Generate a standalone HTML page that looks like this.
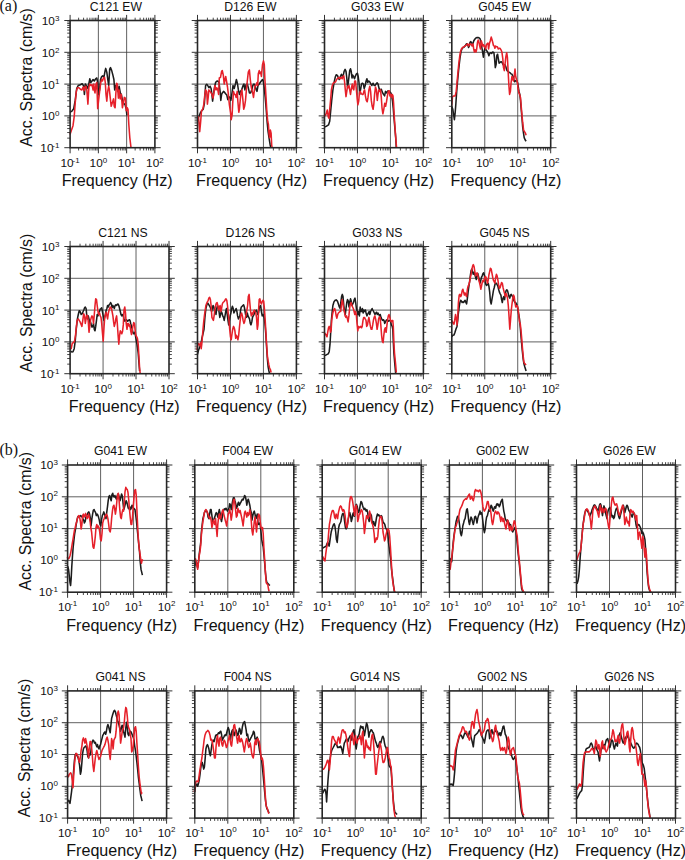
<!DOCTYPE html>
<html><head><meta charset="utf-8"><style>
html,body{margin:0;padding:0;background:#fff;}
svg{display:block;}
text{font-family:"Liberation Sans", sans-serif;fill:#111;}
</style></head><body>
<svg width="685" height="860" viewBox="0 0 685 860">
<path d="M98.37 20.50V147.70M126.63 20.50V147.70M70.10 52.30H154.90M70.10 84.10H154.90M70.10 115.90H154.90" stroke="#383838" stroke-width="0.8" fill="none"/>
<path d="M70.10 20.50v-5.6M70.10 147.70v5.6M98.37 20.50v-5.6M98.37 147.70v5.6M126.63 20.50v-5.6M126.63 147.70v5.6M154.90 20.50v-5.6M154.90 147.70v5.6M70.10 147.70h-5.8M154.90 147.70h5.8M70.10 115.90h-5.8M154.90 115.90h5.8M70.10 84.10h-5.8M154.90 84.10h5.8M70.10 52.30h-5.8M154.90 52.30h5.8M70.10 20.50h-5.8M154.90 20.50h5.8" stroke="#333" stroke-width="1.0" fill="none"/>
<path d="M78.61 20.50v-2.8M78.61 147.70v2.8M83.59 20.50v-2.8M83.59 147.70v2.8M87.12 20.50v-2.8M87.12 147.70v2.8M89.86 20.50v-2.8M89.86 147.70v2.8M92.10 20.50v-2.8M92.10 147.70v2.8M93.99 20.50v-2.8M93.99 147.70v2.8M95.63 20.50v-2.8M95.63 147.70v2.8M97.07 20.50v-2.8M97.07 147.70v2.8M106.88 20.50v-2.8M106.88 147.70v2.8M111.85 20.50v-2.8M111.85 147.70v2.8M115.38 20.50v-2.8M115.38 147.70v2.8M118.12 20.50v-2.8M118.12 147.70v2.8M120.36 20.50v-2.8M120.36 147.70v2.8M122.25 20.50v-2.8M122.25 147.70v2.8M123.89 20.50v-2.8M123.89 147.70v2.8M125.34 20.50v-2.8M125.34 147.70v2.8M135.14 20.50v-2.8M135.14 147.70v2.8M140.12 20.50v-2.8M140.12 147.70v2.8M143.65 20.50v-2.8M143.65 147.70v2.8M146.39 20.50v-2.8M146.39 147.70v2.8M148.63 20.50v-2.8M148.63 147.70v2.8M150.52 20.50v-2.8M150.52 147.70v2.8M152.16 20.50v-2.8M152.16 147.70v2.8M153.61 20.50v-2.8M153.61 147.70v2.8M70.10 138.13h-2.9M154.90 138.13h2.9M70.10 132.53h-2.9M154.90 132.53h2.9M70.10 128.55h-2.9M154.90 128.55h2.9M70.10 125.47h-2.9M154.90 125.47h2.9M70.10 122.95h-2.9M154.90 122.95h2.9M70.10 120.83h-2.9M154.90 120.83h2.9M70.10 118.98h-2.9M154.90 118.98h2.9M70.10 117.36h-2.9M154.90 117.36h2.9M70.10 106.33h-2.9M154.90 106.33h2.9M70.10 100.73h-2.9M154.90 100.73h2.9M70.10 96.75h-2.9M154.90 96.75h2.9M70.10 93.67h-2.9M154.90 93.67h2.9M70.10 91.15h-2.9M154.90 91.15h2.9M70.10 89.03h-2.9M154.90 89.03h2.9M70.10 87.18h-2.9M154.90 87.18h2.9M70.10 85.56h-2.9M154.90 85.56h2.9M70.10 74.53h-2.9M154.90 74.53h2.9M70.10 68.93h-2.9M154.90 68.93h2.9M70.10 64.95h-2.9M154.90 64.95h2.9M70.10 61.87h-2.9M154.90 61.87h2.9M70.10 59.35h-2.9M154.90 59.35h2.9M70.10 57.23h-2.9M154.90 57.23h2.9M70.10 55.38h-2.9M154.90 55.38h2.9M70.10 53.76h-2.9M154.90 53.76h2.9M70.10 42.73h-2.9M154.90 42.73h2.9M70.10 37.13h-2.9M154.90 37.13h2.9M70.10 33.15h-2.9M154.90 33.15h2.9M70.10 30.07h-2.9M154.90 30.07h2.9M70.10 27.55h-2.9M154.90 27.55h2.9M70.10 25.43h-2.9M154.90 25.43h2.9M70.10 23.58h-2.9M154.90 23.58h2.9M70.10 21.96h-2.9M154.90 21.96h2.9" stroke="#333" stroke-width="0.9" fill="none"/>
<path d="M70.0 112.3L72.2 110.8L73.7 108.6L75.2 100.4L76.7 88.5L78.2 85.5L80.4 84.7L82.2 83.7L83.7 86.2L84.4 94.4L85.3 84.0L86.7 86.2L87.9 88.5L89.1 82.5L89.8 78.8L90.8 82.5L92.0 81.0L93.1 79.5L94.3 81.0L95.6 78.8L96.8 78.0L97.7 82.5L98.6 94.4L99.5 90.0L100.5 79.5L101.7 76.6L102.7 75.8L103.9 77.3L105.0 71.3L105.7 68.4L106.8 72.1L108.0 81.0L108.7 85.5L109.7 69.1L110.5 67.6L111.7 70.6L112.9 75.1L113.9 79.5L114.7 90.0L115.7 85.5L116.9 85.5L117.9 91.4L119.1 86.2L120.3 92.9L121.3 94.4L122.5 100.4L123.6 103.3L125.1 104.8L126.3 109.3L126.9 115.3" stroke="#1c1c1c" stroke-width="1.55" fill="none" stroke-linejoin="round"/>
<path d="M70.0 134.6L71.5 130.1L73.0 125.7L74.2 116.7L75.2 103.3L76.3 91.4L77.4 87.7L78.9 87.7L80.4 89.2L81.9 90.0L83.1 87.0L84.1 90.7L84.9 87.0L85.9 86.2L86.8 90.0L87.9 104.1L88.9 87.0L89.8 84.0L90.8 85.5L92.0 84.7L93.1 90.0L93.8 84.0L94.6 91.4L95.0 92.9L96.0 84.0L96.8 82.5L97.7 108.6L98.6 100.4L99.8 90.0L100.8 82.5L101.6 79.5L102.4 81.0L103.5 78.0L104.5 77.3L105.3 82.5L106.0 94.4L106.8 101.1L107.7 91.4L108.7 86.2L109.4 90.0L110.2 97.4L111.2 106.3L112.4 102.6L113.5 98.9L114.2 106.3L115.1 107.8L115.8 94.4L116.6 83.3L117.3 84.0L118.4 98.1L119.1 90.0L120.2 98.9L121.3 94.4L122.4 107.8L123.3 103.3L124.3 97.4L125.4 98.1L126.3 110.8L127.3 107.8L128.0 109.3L128.8 124.2L129.8 137.6L131.0 147.7" stroke="#e6202a" stroke-width="1.55" fill="none" stroke-linejoin="round"/>
<rect x="70.10" y="20.50" width="84.80" height="127.20" stroke="#262626" stroke-width="1.6" fill="none"/>
<text x="115.90" y="10.50" font-size="12.2" text-anchor="middle">C121 EW</text>
<text x="70.10" y="166.90" font-size="11.8" text-anchor="middle">10<tspan dx="-1.2" dy="-4.2" font-size="8">-1</tspan></text>
<text x="98.37" y="166.90" font-size="11.8" text-anchor="middle">10<tspan dx="0" dy="-4.2" font-size="8">0</tspan></text>
<text x="126.63" y="166.90" font-size="11.8" text-anchor="middle">10<tspan dx="0" dy="-4.2" font-size="8">1</tspan></text>
<text x="154.90" y="166.90" font-size="11.8" text-anchor="middle">10<tspan dx="0" dy="-4.2" font-size="8">2</tspan></text>
<text x="59.40" y="25.00" font-size="11.8" text-anchor="end">10<tspan dx="0" dy="-4.2" font-size="8">3</tspan></text>
<text x="59.40" y="56.80" font-size="11.8" text-anchor="end">10<tspan dx="0" dy="-4.2" font-size="8">2</tspan></text>
<text x="59.40" y="88.60" font-size="11.8" text-anchor="end">10<tspan dx="0" dy="-4.2" font-size="8">1</tspan></text>
<text x="59.40" y="120.40" font-size="11.8" text-anchor="end">10<tspan dx="0" dy="-4.2" font-size="8">0</tspan></text>
<text x="59.40" y="152.20" font-size="11.8" text-anchor="end">10<tspan dx="-1.2" dy="-4.2" font-size="8">-1</tspan></text>
<text x="117.10" y="186.00" font-size="16.1" text-anchor="middle">Frequency (Hz)</text>
<path d="M230.47 20.50V147.70M263.43 20.50V147.70M197.50 52.30H296.40M197.50 84.10H296.40M197.50 115.90H296.40" stroke="#383838" stroke-width="0.8" fill="none"/>
<path d="M197.50 20.50v-5.6M197.50 147.70v5.6M230.47 20.50v-5.6M230.47 147.70v5.6M263.43 20.50v-5.6M263.43 147.70v5.6M296.40 20.50v-5.6M296.40 147.70v5.6M197.50 147.70h-5.8M296.40 147.70h5.8M197.50 115.90h-5.8M296.40 115.90h5.8M197.50 84.10h-5.8M296.40 84.10h5.8M197.50 52.30h-5.8M296.40 52.30h5.8M197.50 20.50h-5.8M296.40 20.50h5.8" stroke="#333" stroke-width="1.0" fill="none"/>
<path d="M207.42 20.50v-2.8M207.42 147.70v2.8M213.23 20.50v-2.8M213.23 147.70v2.8M217.35 20.50v-2.8M217.35 147.70v2.8M220.54 20.50v-2.8M220.54 147.70v2.8M223.15 20.50v-2.8M223.15 147.70v2.8M225.36 20.50v-2.8M225.36 147.70v2.8M227.27 20.50v-2.8M227.27 147.70v2.8M228.96 20.50v-2.8M228.96 147.70v2.8M240.39 20.50v-2.8M240.39 147.70v2.8M246.20 20.50v-2.8M246.20 147.70v2.8M250.31 20.50v-2.8M250.31 147.70v2.8M253.51 20.50v-2.8M253.51 147.70v2.8M256.12 20.50v-2.8M256.12 147.70v2.8M258.33 20.50v-2.8M258.33 147.70v2.8M260.24 20.50v-2.8M260.24 147.70v2.8M261.92 20.50v-2.8M261.92 147.70v2.8M273.36 20.50v-2.8M273.36 147.70v2.8M279.16 20.50v-2.8M279.16 147.70v2.8M283.28 20.50v-2.8M283.28 147.70v2.8M286.48 20.50v-2.8M286.48 147.70v2.8M289.09 20.50v-2.8M289.09 147.70v2.8M291.29 20.50v-2.8M291.29 147.70v2.8M293.21 20.50v-2.8M293.21 147.70v2.8M294.89 20.50v-2.8M294.89 147.70v2.8M197.50 138.13h-2.9M296.40 138.13h2.9M197.50 132.53h-2.9M296.40 132.53h2.9M197.50 128.55h-2.9M296.40 128.55h2.9M197.50 125.47h-2.9M296.40 125.47h2.9M197.50 122.95h-2.9M296.40 122.95h2.9M197.50 120.83h-2.9M296.40 120.83h2.9M197.50 118.98h-2.9M296.40 118.98h2.9M197.50 117.36h-2.9M296.40 117.36h2.9M197.50 106.33h-2.9M296.40 106.33h2.9M197.50 100.73h-2.9M296.40 100.73h2.9M197.50 96.75h-2.9M296.40 96.75h2.9M197.50 93.67h-2.9M296.40 93.67h2.9M197.50 91.15h-2.9M296.40 91.15h2.9M197.50 89.03h-2.9M296.40 89.03h2.9M197.50 87.18h-2.9M296.40 87.18h2.9M197.50 85.56h-2.9M296.40 85.56h2.9M197.50 74.53h-2.9M296.40 74.53h2.9M197.50 68.93h-2.9M296.40 68.93h2.9M197.50 64.95h-2.9M296.40 64.95h2.9M197.50 61.87h-2.9M296.40 61.87h2.9M197.50 59.35h-2.9M296.40 59.35h2.9M197.50 57.23h-2.9M296.40 57.23h2.9M197.50 55.38h-2.9M296.40 55.38h2.9M197.50 53.76h-2.9M296.40 53.76h2.9M197.50 42.73h-2.9M296.40 42.73h2.9M197.50 37.13h-2.9M296.40 37.13h2.9M197.50 33.15h-2.9M296.40 33.15h2.9M197.50 30.07h-2.9M296.40 30.07h2.9M197.50 27.55h-2.9M296.40 27.55h2.9M197.50 25.43h-2.9M296.40 25.43h2.9M197.50 23.58h-2.9M296.40 23.58h2.9M197.50 21.96h-2.9M296.40 21.96h2.9" stroke="#333" stroke-width="0.9" fill="none"/>
<path d="M197.4 118.2L198.8 116.7L200.3 113.0L201.8 110.8L203.2 109.3L204.4 103.3L205.6 85.5L206.7 84.3L207.7 85.5L208.9 87.7L210.1 86.2L211.1 88.5L211.9 94.4L212.6 101.1L213.7 92.9L214.6 87.0L215.6 82.5L216.6 81.3L217.8 81.0L219.0 82.5L220.1 91.4L220.8 100.4L221.6 94.4L222.3 92.9L223.5 91.4L224.5 92.2L225.6 93.7L226.8 95.1L227.8 99.6L228.7 96.6L229.7 97.4L230.9 100.4L232.0 92.9L233.0 85.5L234.2 88.5L235.4 84.0L236.4 79.5L237.5 84.0L238.4 89.9L239.4 94.4L240.5 91.4L241.6 89.9L242.8 86.2L243.9 84.0L244.9 89.9L246.1 84.7L247.3 84.0L248.3 87.7L249.4 92.9L250.6 92.9L251.8 89.9L252.8 85.5L254.0 84.0L255.0 85.5L256.2 89.9L257.0 91.4L258.0 85.5L259.2 84.0L260.2 82.5L261.3 81.0L262.5 79.5L263.2 81.0L264.0 85.5L265.2 97.4L266.2 109.3L267.2 122.7L268.1 131.6L269.2 139.0L270.2 145.0L270.8 147.7" stroke="#1c1c1c" stroke-width="1.55" fill="none" stroke-linejoin="round"/>
<path d="M197.0 116.7L198.5 116.7L199.7 131.6L200.7 121.2L201.5 110.8L202.7 109.3L203.7 104.8L204.7 95.9L205.6 89.9L206.7 91.4L207.4 104.1L208.2 97.4L208.9 89.9L210.1 91.4L211.1 92.9L211.9 94.4L213.1 98.1L214.1 91.4L214.9 85.5L216.0 89.9L216.8 87.7L217.8 89.9L218.6 94.4L219.3 78.0L220.5 77.3L221.6 71.3L222.3 70.6L223.3 75.1L224.2 84.0L225.0 79.5L225.7 76.5L226.5 81.0L227.5 87.0L228.2 92.9L229.4 104.8L230.5 112.3L231.2 119.7L232.1 115.2L232.7 103.3L233.5 91.4L234.5 94.4L235.4 94.4L236.1 97.4L237.2 91.4L237.9 101.8L238.8 112.3L239.4 109.3L240.2 100.4L241.0 92.9L241.9 89.9L242.8 98.9L243.7 109.3L244.6 106.3L245.5 100.4L246.4 89.9L247.3 81.0L248.3 72.1L249.4 69.9L250.3 79.5L251.0 85.5L251.8 89.9L252.7 92.9L253.5 97.4L254.4 89.9L255.2 85.5L255.9 85.5L257.0 82.5L257.7 85.5L258.3 73.6L259.2 70.6L259.9 73.6L260.7 72.1L261.4 76.5L262.5 64.6L263.5 60.9L264.3 64.6L264.9 79.5L265.5 88.5L266.2 100.4L266.9 112.3L267.7 121.2L268.4 124.2L269.0 133.1L269.6 137.6L270.4 130.1L271.1 133.1L271.7 145.0L272.1 147.7" stroke="#e6202a" stroke-width="1.55" fill="none" stroke-linejoin="round"/>
<rect x="197.50" y="20.50" width="98.90" height="127.20" stroke="#262626" stroke-width="1.6" fill="none"/>
<text x="250.35" y="10.50" font-size="12.2" text-anchor="middle">D126 EW</text>
<text x="197.50" y="166.90" font-size="11.8" text-anchor="middle">10<tspan dx="-1.2" dy="-4.2" font-size="8">-1</tspan></text>
<text x="230.47" y="166.90" font-size="11.8" text-anchor="middle">10<tspan dx="0" dy="-4.2" font-size="8">0</tspan></text>
<text x="263.43" y="166.90" font-size="11.8" text-anchor="middle">10<tspan dx="0" dy="-4.2" font-size="8">1</tspan></text>
<text x="296.40" y="166.90" font-size="11.8" text-anchor="middle">10<tspan dx="0" dy="-4.2" font-size="8">2</tspan></text>
<text x="251.55" y="186.00" font-size="16.1" text-anchor="middle">Frequency (Hz)</text>
<path d="M357.47 20.50V147.70M390.43 20.50V147.70M324.50 52.30H423.40M324.50 84.10H423.40M324.50 115.90H423.40" stroke="#383838" stroke-width="0.8" fill="none"/>
<path d="M324.50 20.50v-5.6M324.50 147.70v5.6M357.47 20.50v-5.6M357.47 147.70v5.6M390.43 20.50v-5.6M390.43 147.70v5.6M423.40 20.50v-5.6M423.40 147.70v5.6M324.50 147.70h-5.8M423.40 147.70h5.8M324.50 115.90h-5.8M423.40 115.90h5.8M324.50 84.10h-5.8M423.40 84.10h5.8M324.50 52.30h-5.8M423.40 52.30h5.8M324.50 20.50h-5.8M423.40 20.50h5.8" stroke="#333" stroke-width="1.0" fill="none"/>
<path d="M334.42 20.50v-2.8M334.42 147.70v2.8M340.23 20.50v-2.8M340.23 147.70v2.8M344.35 20.50v-2.8M344.35 147.70v2.8M347.54 20.50v-2.8M347.54 147.70v2.8M350.15 20.50v-2.8M350.15 147.70v2.8M352.36 20.50v-2.8M352.36 147.70v2.8M354.27 20.50v-2.8M354.27 147.70v2.8M355.96 20.50v-2.8M355.96 147.70v2.8M367.39 20.50v-2.8M367.39 147.70v2.8M373.20 20.50v-2.8M373.20 147.70v2.8M377.31 20.50v-2.8M377.31 147.70v2.8M380.51 20.50v-2.8M380.51 147.70v2.8M383.12 20.50v-2.8M383.12 147.70v2.8M385.33 20.50v-2.8M385.33 147.70v2.8M387.24 20.50v-2.8M387.24 147.70v2.8M388.92 20.50v-2.8M388.92 147.70v2.8M400.36 20.50v-2.8M400.36 147.70v2.8M406.16 20.50v-2.8M406.16 147.70v2.8M410.28 20.50v-2.8M410.28 147.70v2.8M413.48 20.50v-2.8M413.48 147.70v2.8M416.09 20.50v-2.8M416.09 147.70v2.8M418.29 20.50v-2.8M418.29 147.70v2.8M420.21 20.50v-2.8M420.21 147.70v2.8M421.89 20.50v-2.8M421.89 147.70v2.8M324.50 138.13h-2.9M423.40 138.13h2.9M324.50 132.53h-2.9M423.40 132.53h2.9M324.50 128.55h-2.9M423.40 128.55h2.9M324.50 125.47h-2.9M423.40 125.47h2.9M324.50 122.95h-2.9M423.40 122.95h2.9M324.50 120.83h-2.9M423.40 120.83h2.9M324.50 118.98h-2.9M423.40 118.98h2.9M324.50 117.36h-2.9M423.40 117.36h2.9M324.50 106.33h-2.9M423.40 106.33h2.9M324.50 100.73h-2.9M423.40 100.73h2.9M324.50 96.75h-2.9M423.40 96.75h2.9M324.50 93.67h-2.9M423.40 93.67h2.9M324.50 91.15h-2.9M423.40 91.15h2.9M324.50 89.03h-2.9M423.40 89.03h2.9M324.50 87.18h-2.9M423.40 87.18h2.9M324.50 85.56h-2.9M423.40 85.56h2.9M324.50 74.53h-2.9M423.40 74.53h2.9M324.50 68.93h-2.9M423.40 68.93h2.9M324.50 64.95h-2.9M423.40 64.95h2.9M324.50 61.87h-2.9M423.40 61.87h2.9M324.50 59.35h-2.9M423.40 59.35h2.9M324.50 57.23h-2.9M423.40 57.23h2.9M324.50 55.38h-2.9M423.40 55.38h2.9M324.50 53.76h-2.9M423.40 53.76h2.9M324.50 42.73h-2.9M423.40 42.73h2.9M324.50 37.13h-2.9M423.40 37.13h2.9M324.50 33.15h-2.9M423.40 33.15h2.9M324.50 30.07h-2.9M423.40 30.07h2.9M324.50 27.55h-2.9M423.40 27.55h2.9M324.50 25.43h-2.9M423.40 25.43h2.9M324.50 23.58h-2.9M423.40 23.58h2.9M324.50 21.96h-2.9M423.40 21.96h2.9" stroke="#333" stroke-width="0.9" fill="none"/>
<path d="M324.4 127.1L326.2 126.4L328.5 124.9L329.7 121.2L330.7 110.8L331.7 100.4L332.9 89.9L334.1 82.5L335.2 77.3L336.2 74.8L337.4 75.4L338.4 78.0L339.3 79.5L340.4 76.5L341.4 74.3L342.3 76.2L343.3 75.1L344.1 71.3L345.1 69.4L346.0 71.3L346.8 78.0L347.5 87.0L348.3 82.5L349.0 76.5L349.7 70.6L350.5 68.8L351.2 71.3L352.0 78.0L352.7 75.1L353.5 76.5L354.5 78.8L355.5 75.8L356.4 73.9L357.5 73.3L358.2 76.5L359.0 82.5L359.7 94.4L360.5 89.9L361.5 84.0L362.4 83.2L363.4 84.0L364.2 88.5L365.2 85.5L366.1 81.0L366.9 78.8L367.8 82.5L368.6 81.0L369.7 81.8L370.9 84.0L371.9 85.5L373.1 83.2L374.1 85.5L375.0 85.5L376.1 84.0L377.1 82.8L378.0 84.0L379.1 88.5L380.1 89.9L381.3 89.2L382.3 92.2L383.5 94.4L384.6 95.9L385.5 91.4L386.5 92.9L387.5 91.4L388.4 90.7L389.5 92.2L390.5 92.2L391.4 94.4L392.5 101.1L393.2 107.8L393.9 116.7L394.8 127.1L395.7 137.6L396.3 147.7" stroke="#1c1c1c" stroke-width="1.55" fill="none" stroke-linejoin="round"/>
<path d="M324.0 116.7L325.2 115.2L326.2 113.8L327.3 110.0L328.2 116.7L328.9 118.2L329.7 109.3L330.7 98.9L331.4 89.9L332.3 85.5L333.2 83.2L334.4 82.5L335.6 81.8L336.6 79.5L337.7 78.3L338.9 77.3L340.1 78.8L341.1 77.3L342.2 78.8L343.0 76.5L343.8 75.8L344.5 81.0L345.3 89.9L346.0 96.6L346.8 91.4L347.5 86.2L348.3 87.7L349.0 85.5L349.7 89.9L350.5 94.4L351.4 88.5L352.3 84.0L353.0 88.5L353.8 89.9L354.7 81.0L355.5 81.0L356.4 89.9L357.2 98.9L357.9 104.8L358.7 101.1L359.4 92.9L360.2 91.4L361.2 93.7L362.2 94.4L363.1 94.4L363.9 91.4L364.6 89.9L365.4 95.9L366.3 100.4L367.2 101.8L368.0 97.4L368.9 89.9L369.8 86.2L370.6 91.4L371.3 100.4L372.2 106.3L373.1 109.3L373.9 103.3L374.6 94.4L375.5 87.0L376.4 89.9L377.3 100.4L378.0 94.4L378.8 89.9L379.7 91.4L380.5 89.9L381.3 97.4L382.0 107.8L382.9 113.8L383.8 109.3L384.7 103.3L385.6 106.3L386.5 101.8L387.4 95.9L388.3 91.4L389.2 90.7L389.9 95.9L390.7 94.4L391.4 97.4L392.2 94.4L393.0 95.9L393.6 103.3L394.2 115.2L394.8 124.2L395.4 133.1L396.2 143.5L396.6 147.7" stroke="#e6202a" stroke-width="1.55" fill="none" stroke-linejoin="round"/>
<rect x="324.50" y="20.50" width="98.90" height="127.20" stroke="#262626" stroke-width="1.6" fill="none"/>
<text x="377.35" y="10.50" font-size="12.2" text-anchor="middle">G033 EW</text>
<text x="324.50" y="166.90" font-size="11.8" text-anchor="middle">10<tspan dx="-1.2" dy="-4.2" font-size="8">-1</tspan></text>
<text x="357.47" y="166.90" font-size="11.8" text-anchor="middle">10<tspan dx="0" dy="-4.2" font-size="8">0</tspan></text>
<text x="390.43" y="166.90" font-size="11.8" text-anchor="middle">10<tspan dx="0" dy="-4.2" font-size="8">1</tspan></text>
<text x="423.40" y="166.90" font-size="11.8" text-anchor="middle">10<tspan dx="0" dy="-4.2" font-size="8">2</tspan></text>
<text x="378.55" y="186.00" font-size="16.1" text-anchor="middle">Frequency (Hz)</text>
<path d="M484.77 20.50V147.70M517.73 20.50V147.70M451.80 52.30H550.70M451.80 84.10H550.70M451.80 115.90H550.70" stroke="#383838" stroke-width="0.8" fill="none"/>
<path d="M451.80 20.50v-5.6M451.80 147.70v5.6M484.77 20.50v-5.6M484.77 147.70v5.6M517.73 20.50v-5.6M517.73 147.70v5.6M550.70 20.50v-5.6M550.70 147.70v5.6M451.80 147.70h-5.8M550.70 147.70h5.8M451.80 115.90h-5.8M550.70 115.90h5.8M451.80 84.10h-5.8M550.70 84.10h5.8M451.80 52.30h-5.8M550.70 52.30h5.8M451.80 20.50h-5.8M550.70 20.50h5.8" stroke="#333" stroke-width="1.0" fill="none"/>
<path d="M461.72 20.50v-2.8M461.72 147.70v2.8M467.53 20.50v-2.8M467.53 147.70v2.8M471.65 20.50v-2.8M471.65 147.70v2.8M474.84 20.50v-2.8M474.84 147.70v2.8M477.45 20.50v-2.8M477.45 147.70v2.8M479.66 20.50v-2.8M479.66 147.70v2.8M481.57 20.50v-2.8M481.57 147.70v2.8M483.26 20.50v-2.8M483.26 147.70v2.8M494.69 20.50v-2.8M494.69 147.70v2.8M500.50 20.50v-2.8M500.50 147.70v2.8M504.61 20.50v-2.8M504.61 147.70v2.8M507.81 20.50v-2.8M507.81 147.70v2.8M510.42 20.50v-2.8M510.42 147.70v2.8M512.63 20.50v-2.8M512.63 147.70v2.8M514.54 20.50v-2.8M514.54 147.70v2.8M516.22 20.50v-2.8M516.22 147.70v2.8M527.66 20.50v-2.8M527.66 147.70v2.8M533.46 20.50v-2.8M533.46 147.70v2.8M537.58 20.50v-2.8M537.58 147.70v2.8M540.78 20.50v-2.8M540.78 147.70v2.8M543.39 20.50v-2.8M543.39 147.70v2.8M545.59 20.50v-2.8M545.59 147.70v2.8M547.51 20.50v-2.8M547.51 147.70v2.8M549.19 20.50v-2.8M549.19 147.70v2.8M451.80 138.13h-2.9M550.70 138.13h2.9M451.80 132.53h-2.9M550.70 132.53h2.9M451.80 128.55h-2.9M550.70 128.55h2.9M451.80 125.47h-2.9M550.70 125.47h2.9M451.80 122.95h-2.9M550.70 122.95h2.9M451.80 120.83h-2.9M550.70 120.83h2.9M451.80 118.98h-2.9M550.70 118.98h2.9M451.80 117.36h-2.9M550.70 117.36h2.9M451.80 106.33h-2.9M550.70 106.33h2.9M451.80 100.73h-2.9M550.70 100.73h2.9M451.80 96.75h-2.9M550.70 96.75h2.9M451.80 93.67h-2.9M550.70 93.67h2.9M451.80 91.15h-2.9M550.70 91.15h2.9M451.80 89.03h-2.9M550.70 89.03h2.9M451.80 87.18h-2.9M550.70 87.18h2.9M451.80 85.56h-2.9M550.70 85.56h2.9M451.80 74.53h-2.9M550.70 74.53h2.9M451.80 68.93h-2.9M550.70 68.93h2.9M451.80 64.95h-2.9M550.70 64.95h2.9M451.80 61.87h-2.9M550.70 61.87h2.9M451.80 59.35h-2.9M550.70 59.35h2.9M451.80 57.23h-2.9M550.70 57.23h2.9M451.80 55.38h-2.9M550.70 55.38h2.9M451.80 53.76h-2.9M550.70 53.76h2.9M451.80 42.73h-2.9M550.70 42.73h2.9M451.80 37.13h-2.9M550.70 37.13h2.9M451.80 33.15h-2.9M550.70 33.15h2.9M451.80 30.07h-2.9M550.70 30.07h2.9M451.80 27.55h-2.9M550.70 27.55h2.9M451.80 25.43h-2.9M550.70 25.43h2.9M451.80 23.58h-2.9M550.70 23.58h2.9M451.80 21.96h-2.9M550.70 21.96h2.9" stroke="#333" stroke-width="0.9" fill="none"/>
<path d="M451.7 106.3L452.8 109.3L453.7 115.2L454.4 119.7L455.2 112.3L455.9 103.3L456.7 91.4L457.7 79.5L458.7 69.1L459.9 58.7L461.1 51.2L462.2 48.3L463.2 47.5L464.4 46.8L465.6 45.3L466.6 43.8L467.7 44.6L468.6 47.5L469.3 46.0L470.0 42.3L470.8 41.6L471.8 43.1L472.9 43.8L473.8 40.8L474.8 39.3L475.9 37.9L477.0 37.6L478.2 37.6L479.3 37.9L480.3 39.3L481.2 43.8L482.0 48.3L482.7 52.7L483.4 57.2L484.2 51.2L484.9 48.3L486.0 49.8L487.0 51.2L487.9 52.7L488.9 55.7L489.7 53.5L490.7 52.7L491.6 53.5L492.7 52.0L493.9 52.7L494.6 58.7L495.3 67.6L496.1 64.6L496.8 55.7L497.6 54.2L498.3 58.7L499.1 63.2L500.1 62.4L501.1 61.7L502.0 62.4L503.1 64.6L504.1 66.1L505.0 64.6L506.1 67.6L507.0 70.6L508.0 71.3L509.0 72.1L510.1 72.8L511.1 73.9L512.0 74.3L513.1 76.5L513.9 79.5L514.7 81.8L515.4 81.0L516.5 80.3L517.5 82.5L518.3 87.0L519.0 91.4L519.8 94.4L520.5 100.4L521.2 109.3L522.0 118.2L522.7 127.1L523.5 133.1L524.2 137.6L525.1 139.8L526.1 141.3" stroke="#1c1c1c" stroke-width="1.55" fill="none" stroke-linejoin="round"/>
<path d="M451.7 105.6L452.5 96.6L453.7 95.9L455.2 95.9L456.2 91.4L457.0 82.5L457.7 75.1L458.7 64.6L459.6 57.2L460.4 52.0L461.4 49.0L462.6 47.5L463.8 46.8L464.8 46.0L465.9 45.3L466.8 44.6L467.7 43.8L468.6 46.0L469.5 44.6L470.3 43.8L471.2 44.6L472.1 46.0L473.0 43.8L473.6 48.3L474.4 52.0L475.1 49.8L476.0 52.0L476.7 49.0L477.5 42.3L478.2 40.1L479.0 42.3L479.7 46.0L480.5 49.0L481.2 40.8L482.0 43.1L482.7 46.0L483.4 44.6L484.2 46.8L484.9 46.0L485.7 49.0L486.4 44.6L487.2 43.8L487.9 43.1L488.6 49.0L489.4 43.8L490.3 40.8L491.2 37.1L491.9 39.3L492.7 42.3L493.4 45.3L494.2 46.0L494.9 48.3L495.6 46.0L496.5 46.8L497.4 46.8L498.3 49.0L499.2 48.3L500.1 48.3L501.0 49.8L501.9 52.0L502.8 58.7L503.5 67.6L504.3 70.6L505.0 64.6L505.8 57.2L506.7 52.7L507.4 57.2L508.1 70.6L508.9 85.5L509.6 94.4L510.4 91.4L511.1 82.5L511.9 76.5L512.8 79.5L513.5 81.0L514.2 76.5L515.0 69.1L515.7 76.5L516.5 79.5L517.4 82.5L518.1 88.5L518.9 92.9L519.6 94.4L520.5 97.4L521.2 106.3L522.0 115.2L522.7 122.7L523.6 130.1L524.5 131.6L525.4 133.1L526.1 135.3" stroke="#e6202a" stroke-width="1.55" fill="none" stroke-linejoin="round"/>
<rect x="451.80" y="20.50" width="98.90" height="127.20" stroke="#262626" stroke-width="1.6" fill="none"/>
<text x="504.65" y="10.50" font-size="12.2" text-anchor="middle">G045 EW</text>
<text x="451.80" y="166.90" font-size="11.8" text-anchor="middle">10<tspan dx="-1.2" dy="-4.2" font-size="8">-1</tspan></text>
<text x="484.77" y="166.90" font-size="11.8" text-anchor="middle">10<tspan dx="0" dy="-4.2" font-size="8">0</tspan></text>
<text x="517.73" y="166.90" font-size="11.8" text-anchor="middle">10<tspan dx="0" dy="-4.2" font-size="8">1</tspan></text>
<text x="550.70" y="166.90" font-size="11.8" text-anchor="middle">10<tspan dx="0" dy="-4.2" font-size="8">2</tspan></text>
<text x="505.85" y="186.00" font-size="16.1" text-anchor="middle">Frequency (Hz)</text>
<path d="M103.07 246.50V373.70M136.03 246.50V373.70M70.10 278.30H169.00M70.10 310.10H169.00M70.10 341.90H169.00" stroke="#383838" stroke-width="0.8" fill="none"/>
<path d="M70.10 246.50v-5.6M70.10 373.70v5.6M103.07 246.50v-5.6M103.07 373.70v5.6M136.03 246.50v-5.6M136.03 373.70v5.6M169.00 246.50v-5.6M169.00 373.70v5.6M70.10 373.70h-5.8M169.00 373.70h5.8M70.10 341.90h-5.8M169.00 341.90h5.8M70.10 310.10h-5.8M169.00 310.10h5.8M70.10 278.30h-5.8M169.00 278.30h5.8M70.10 246.50h-5.8M169.00 246.50h5.8" stroke="#333" stroke-width="1.0" fill="none"/>
<path d="M80.02 246.50v-2.8M80.02 373.70v2.8M85.83 246.50v-2.8M85.83 373.70v2.8M89.95 246.50v-2.8M89.95 373.70v2.8M93.14 246.50v-2.8M93.14 373.70v2.8M95.75 246.50v-2.8M95.75 373.70v2.8M97.96 246.50v-2.8M97.96 373.70v2.8M99.87 246.50v-2.8M99.87 373.70v2.8M101.56 246.50v-2.8M101.56 373.70v2.8M112.99 246.50v-2.8M112.99 373.70v2.8M118.80 246.50v-2.8M118.80 373.70v2.8M122.91 246.50v-2.8M122.91 373.70v2.8M126.11 246.50v-2.8M126.11 373.70v2.8M128.72 246.50v-2.8M128.72 373.70v2.8M130.93 246.50v-2.8M130.93 373.70v2.8M132.84 246.50v-2.8M132.84 373.70v2.8M134.52 246.50v-2.8M134.52 373.70v2.8M145.96 246.50v-2.8M145.96 373.70v2.8M151.76 246.50v-2.8M151.76 373.70v2.8M155.88 246.50v-2.8M155.88 373.70v2.8M159.08 246.50v-2.8M159.08 373.70v2.8M161.69 246.50v-2.8M161.69 373.70v2.8M163.89 246.50v-2.8M163.89 373.70v2.8M165.81 246.50v-2.8M165.81 373.70v2.8M167.49 246.50v-2.8M167.49 373.70v2.8M70.10 364.13h-2.9M169.00 364.13h2.9M70.10 358.53h-2.9M169.00 358.53h2.9M70.10 354.55h-2.9M169.00 354.55h2.9M70.10 351.47h-2.9M169.00 351.47h2.9M70.10 348.95h-2.9M169.00 348.95h2.9M70.10 346.83h-2.9M169.00 346.83h2.9M70.10 344.98h-2.9M169.00 344.98h2.9M70.10 343.36h-2.9M169.00 343.36h2.9M70.10 332.33h-2.9M169.00 332.33h2.9M70.10 326.73h-2.9M169.00 326.73h2.9M70.10 322.75h-2.9M169.00 322.75h2.9M70.10 319.67h-2.9M169.00 319.67h2.9M70.10 317.15h-2.9M169.00 317.15h2.9M70.10 315.03h-2.9M169.00 315.03h2.9M70.10 313.18h-2.9M169.00 313.18h2.9M70.10 311.56h-2.9M169.00 311.56h2.9M70.10 300.53h-2.9M169.00 300.53h2.9M70.10 294.93h-2.9M169.00 294.93h2.9M70.10 290.95h-2.9M169.00 290.95h2.9M70.10 287.87h-2.9M169.00 287.87h2.9M70.10 285.35h-2.9M169.00 285.35h2.9M70.10 283.23h-2.9M169.00 283.23h2.9M70.10 281.38h-2.9M169.00 281.38h2.9M70.10 279.76h-2.9M169.00 279.76h2.9M70.10 268.73h-2.9M169.00 268.73h2.9M70.10 263.13h-2.9M169.00 263.13h2.9M70.10 259.15h-2.9M169.00 259.15h2.9M70.10 256.07h-2.9M169.00 256.07h2.9M70.10 253.55h-2.9M169.00 253.55h2.9M70.10 251.43h-2.9M169.00 251.43h2.9M70.10 249.58h-2.9M169.00 249.58h2.9M70.10 247.96h-2.9M169.00 247.96h2.9" stroke="#333" stroke-width="0.9" fill="none"/>
<path d="M70.4 350.9L71.8 352.0L73.0 351.7L74.2 348.7L75.2 341.2L76.2 329.3L77.4 318.9L78.3 314.5L79.2 310.7L80.1 311.5L81.2 314.5L82.2 313.7L83.1 311.5L83.8 310.0L84.6 307.8L85.3 307.0L86.1 308.5L86.8 315.9L87.6 318.9L88.3 315.9L89.0 318.9L89.8 323.4L90.5 321.9L91.3 324.9L92.0 327.1L92.8 326.4L93.5 323.4L94.3 329.3L95.0 330.8L95.7 326.4L96.5 320.4L97.2 314.5L98.0 315.9L98.7 313.0L99.5 311.5L100.2 309.2L101.0 308.5L101.7 307.8L102.4 311.5L103.2 315.9L103.9 320.4L104.7 317.4L105.4 314.5L106.2 310.0L106.9 308.5L107.6 305.5L108.4 307.0L109.1 304.8L109.9 304.0L110.6 302.5L111.4 304.0L112.1 307.8L112.9 305.5L113.6 307.0L114.3 308.5L115.1 305.5L115.8 304.8L116.6 305.5L117.3 304.3L118.1 304.0L118.8 305.5L119.6 308.5L120.3 311.5L121.0 314.5L121.8 315.9L122.5 314.5L123.3 315.9L124.0 318.9L124.8 321.1L125.5 320.4L126.2 319.7L127.0 320.4L127.7 321.1L128.5 320.4L129.2 319.7L130.0 320.4L130.7 323.4L131.5 326.4L132.2 329.3L132.9 332.3L133.7 333.8L134.4 332.3L135.2 333.8L135.9 338.3L136.7 342.7L137.4 347.2L138.2 353.1L138.9 362.1L139.6 371.0" stroke="#1c1c1c" stroke-width="1.55" fill="none" stroke-linejoin="round"/>
<path d="M70.0 349.4L71.2 348.7L72.2 343.5L73.3 342.7L74.5 341.2L75.5 335.3L76.4 326.4L77.1 320.4L78.2 318.9L79.2 320.4L80.1 321.9L81.0 324.1L81.9 326.4L82.8 320.4L83.7 313.7L84.6 315.9L85.3 323.4L86.1 318.9L86.8 315.2L87.6 315.9L88.3 321.9L89.0 332.3L89.8 326.4L90.5 320.4L91.3 317.4L92.0 315.9L92.8 317.4L93.5 323.4L94.3 314.5L95.0 305.5L95.7 298.8L96.5 299.6L97.2 305.5L98.0 311.5L98.7 314.5L99.5 313.0L100.2 315.9L101.0 317.4L101.7 323.4L102.4 332.3L103.2 341.2L103.9 329.3L104.7 317.4L105.4 314.5L106.2 312.2L106.9 315.9L107.6 318.9L108.4 313.0L109.1 310.0L109.9 307.8L110.6 307.0L111.4 308.5L112.1 311.5L112.9 315.9L113.6 321.9L114.3 326.4L115.1 323.4L115.8 318.9L116.6 315.9L117.3 323.4L118.1 335.3L118.8 344.2L119.6 335.3L120.3 330.8L121.0 332.3L121.8 333.8L122.5 331.6L123.3 324.9L124.0 310.0L124.8 307.0L125.5 313.0L126.2 323.4L127.0 329.3L127.7 323.4L128.5 323.4L129.2 326.4L130.0 324.9L130.7 330.8L131.5 334.5L132.2 330.8L132.9 326.4L133.7 322.6L134.4 323.4L135.2 330.8L135.9 335.3L136.7 336.8L137.4 338.3L138.2 344.2L138.9 356.1L139.6 368.0L140.2 373.7" stroke="#e6202a" stroke-width="1.55" fill="none" stroke-linejoin="round"/>
<rect x="70.10" y="246.50" width="98.90" height="127.20" stroke="#262626" stroke-width="1.6" fill="none"/>
<text x="122.95" y="236.50" font-size="12.2" text-anchor="middle">C121 NS</text>
<text x="70.10" y="392.90" font-size="11.8" text-anchor="middle">10<tspan dx="-1.2" dy="-4.2" font-size="8">-1</tspan></text>
<text x="103.07" y="392.90" font-size="11.8" text-anchor="middle">10<tspan dx="0" dy="-4.2" font-size="8">0</tspan></text>
<text x="136.03" y="392.90" font-size="11.8" text-anchor="middle">10<tspan dx="0" dy="-4.2" font-size="8">1</tspan></text>
<text x="169.00" y="392.90" font-size="11.8" text-anchor="middle">10<tspan dx="0" dy="-4.2" font-size="8">2</tspan></text>
<text x="59.40" y="251.00" font-size="11.8" text-anchor="end">10<tspan dx="0" dy="-4.2" font-size="8">3</tspan></text>
<text x="59.40" y="282.80" font-size="11.8" text-anchor="end">10<tspan dx="0" dy="-4.2" font-size="8">2</tspan></text>
<text x="59.40" y="314.60" font-size="11.8" text-anchor="end">10<tspan dx="0" dy="-4.2" font-size="8">1</tspan></text>
<text x="59.40" y="346.40" font-size="11.8" text-anchor="end">10<tspan dx="0" dy="-4.2" font-size="8">0</tspan></text>
<text x="59.40" y="378.20" font-size="11.8" text-anchor="end">10<tspan dx="-1.2" dy="-4.2" font-size="8">-1</tspan></text>
<text x="124.15" y="412.00" font-size="16.1" text-anchor="middle">Frequency (Hz)</text>
<path d="M230.47 246.50V373.70M263.43 246.50V373.70M197.50 278.30H296.40M197.50 310.10H296.40M197.50 341.90H296.40" stroke="#383838" stroke-width="0.8" fill="none"/>
<path d="M197.50 246.50v-5.6M197.50 373.70v5.6M230.47 246.50v-5.6M230.47 373.70v5.6M263.43 246.50v-5.6M263.43 373.70v5.6M296.40 246.50v-5.6M296.40 373.70v5.6M197.50 373.70h-5.8M296.40 373.70h5.8M197.50 341.90h-5.8M296.40 341.90h5.8M197.50 310.10h-5.8M296.40 310.10h5.8M197.50 278.30h-5.8M296.40 278.30h5.8M197.50 246.50h-5.8M296.40 246.50h5.8" stroke="#333" stroke-width="1.0" fill="none"/>
<path d="M207.42 246.50v-2.8M207.42 373.70v2.8M213.23 246.50v-2.8M213.23 373.70v2.8M217.35 246.50v-2.8M217.35 373.70v2.8M220.54 246.50v-2.8M220.54 373.70v2.8M223.15 246.50v-2.8M223.15 373.70v2.8M225.36 246.50v-2.8M225.36 373.70v2.8M227.27 246.50v-2.8M227.27 373.70v2.8M228.96 246.50v-2.8M228.96 373.70v2.8M240.39 246.50v-2.8M240.39 373.70v2.8M246.20 246.50v-2.8M246.20 373.70v2.8M250.31 246.50v-2.8M250.31 373.70v2.8M253.51 246.50v-2.8M253.51 373.70v2.8M256.12 246.50v-2.8M256.12 373.70v2.8M258.33 246.50v-2.8M258.33 373.70v2.8M260.24 246.50v-2.8M260.24 373.70v2.8M261.92 246.50v-2.8M261.92 373.70v2.8M273.36 246.50v-2.8M273.36 373.70v2.8M279.16 246.50v-2.8M279.16 373.70v2.8M283.28 246.50v-2.8M283.28 373.70v2.8M286.48 246.50v-2.8M286.48 373.70v2.8M289.09 246.50v-2.8M289.09 373.70v2.8M291.29 246.50v-2.8M291.29 373.70v2.8M293.21 246.50v-2.8M293.21 373.70v2.8M294.89 246.50v-2.8M294.89 373.70v2.8M197.50 364.13h-2.9M296.40 364.13h2.9M197.50 358.53h-2.9M296.40 358.53h2.9M197.50 354.55h-2.9M296.40 354.55h2.9M197.50 351.47h-2.9M296.40 351.47h2.9M197.50 348.95h-2.9M296.40 348.95h2.9M197.50 346.83h-2.9M296.40 346.83h2.9M197.50 344.98h-2.9M296.40 344.98h2.9M197.50 343.36h-2.9M296.40 343.36h2.9M197.50 332.33h-2.9M296.40 332.33h2.9M197.50 326.73h-2.9M296.40 326.73h2.9M197.50 322.75h-2.9M296.40 322.75h2.9M197.50 319.67h-2.9M296.40 319.67h2.9M197.50 317.15h-2.9M296.40 317.15h2.9M197.50 315.03h-2.9M296.40 315.03h2.9M197.50 313.18h-2.9M296.40 313.18h2.9M197.50 311.56h-2.9M296.40 311.56h2.9M197.50 300.53h-2.9M296.40 300.53h2.9M197.50 294.93h-2.9M296.40 294.93h2.9M197.50 290.95h-2.9M296.40 290.95h2.9M197.50 287.87h-2.9M296.40 287.87h2.9M197.50 285.35h-2.9M296.40 285.35h2.9M197.50 283.23h-2.9M296.40 283.23h2.9M197.50 281.38h-2.9M296.40 281.38h2.9M197.50 279.76h-2.9M296.40 279.76h2.9M197.50 268.73h-2.9M296.40 268.73h2.9M197.50 263.13h-2.9M296.40 263.13h2.9M197.50 259.15h-2.9M296.40 259.15h2.9M197.50 256.07h-2.9M296.40 256.07h2.9M197.50 253.55h-2.9M296.40 253.55h2.9M197.50 251.43h-2.9M296.40 251.43h2.9M197.50 249.58h-2.9M296.40 249.58h2.9M197.50 247.96h-2.9M296.40 247.96h2.9" stroke="#333" stroke-width="0.9" fill="none"/>
<path d="M197.4 354.6L198.5 350.2L199.7 347.2L200.9 344.2L201.9 338.3L203.0 333.8L204.0 329.3L204.9 317.4L205.9 308.5L207.0 304.0L208.0 303.3L208.9 304.8L209.8 306.3L210.7 308.5L211.6 311.5L212.3 308.5L213.1 305.5L213.8 307.0L214.6 311.5L215.3 310.0L216.0 314.5L216.8 308.5L217.5 305.5L218.3 307.0L219.0 311.5L219.8 317.4L220.5 314.5L221.3 311.5L222.0 313.0L222.7 315.9L223.5 317.4L224.2 320.4L225.0 315.9L225.7 311.5L226.5 308.5L227.2 314.5L228.0 320.4L228.7 324.9L229.4 320.4L230.2 315.9L230.9 313.0L231.7 308.5L232.4 306.3L233.2 308.5L233.9 313.0L234.6 311.5L235.4 310.0L236.1 308.5L236.9 311.5L237.6 315.9L238.4 318.9L239.1 317.4L239.9 315.9L240.6 310.0L241.3 307.0L242.1 306.3L242.8 305.5L243.6 304.8L244.3 307.0L245.1 311.5L245.8 315.9L246.6 317.4L247.3 313.0L248.0 315.9L248.8 317.4L249.5 318.9L250.3 323.4L251.0 324.9L251.8 321.9L252.5 317.4L253.2 315.9L254.0 314.5L254.7 311.5L255.5 311.5L256.2 310.0L257.0 311.5L257.7 314.5L258.5 313.0L259.2 308.5L259.9 306.3L260.7 305.5L261.4 311.5L262.2 315.9L262.9 314.5L263.7 315.9L264.4 318.9L265.2 326.4L265.9 335.3L266.6 347.2L267.4 359.1L268.1 366.5L268.9 371.0L269.6 373.7" stroke="#1c1c1c" stroke-width="1.55" fill="none" stroke-linejoin="round"/>
<path d="M197.0 350.2L197.7 345.7L198.5 343.5L199.2 344.2L200.0 345.7L200.7 342.7L201.2 348.7L201.8 344.2L202.4 336.8L203.0 329.3L203.7 321.9L204.4 315.9L205.2 310.0L205.9 305.5L206.7 303.3L207.4 301.8L208.2 300.3L208.9 298.1L209.6 297.3L210.4 299.6L211.1 305.5L211.9 317.4L212.6 318.9L213.4 320.4L214.1 315.9L214.9 310.0L215.6 305.5L216.3 303.3L217.1 302.5L217.8 305.5L218.6 310.0L219.3 307.0L220.1 305.5L220.8 311.5L221.6 308.5L222.3 304.0L223.0 302.5L223.8 301.8L224.5 301.1L225.3 299.6L226.0 298.8L226.8 300.3L227.5 305.5L228.2 313.0L229.0 320.4L229.7 329.3L230.5 336.8L231.2 339.8L232.0 333.8L232.7 329.3L233.5 326.4L234.2 327.8L234.9 330.8L235.7 338.3L236.4 335.3L237.2 336.8L237.9 339.8L238.7 335.3L239.4 327.8L240.2 320.4L240.9 314.5L241.6 313.0L242.4 315.9L243.1 320.4L243.9 323.4L244.6 321.9L245.4 317.4L246.1 314.5L246.9 310.0L247.6 305.5L248.3 296.6L249.1 294.4L249.8 302.5L250.6 311.5L251.3 315.9L252.1 313.0L252.8 314.5L253.5 311.5L254.3 310.0L255.0 311.5L255.8 313.0L256.5 317.4L257.3 329.3L258.0 324.9L258.5 311.5L259.2 299.6L259.9 298.8L260.7 302.5L261.4 304.0L262.2 301.8L262.9 300.3L263.7 301.1L264.4 308.5L265.2 320.4L265.9 332.3L266.6 344.2L267.4 356.1L268.1 360.6L268.9 365.0L269.6 368.0L270.4 369.5L271.1 372.5" stroke="#e6202a" stroke-width="1.55" fill="none" stroke-linejoin="round"/>
<rect x="197.50" y="246.50" width="98.90" height="127.20" stroke="#262626" stroke-width="1.6" fill="none"/>
<text x="250.35" y="236.50" font-size="12.2" text-anchor="middle">D126 NS</text>
<text x="197.50" y="392.90" font-size="11.8" text-anchor="middle">10<tspan dx="-1.2" dy="-4.2" font-size="8">-1</tspan></text>
<text x="230.47" y="392.90" font-size="11.8" text-anchor="middle">10<tspan dx="0" dy="-4.2" font-size="8">0</tspan></text>
<text x="263.43" y="392.90" font-size="11.8" text-anchor="middle">10<tspan dx="0" dy="-4.2" font-size="8">1</tspan></text>
<text x="296.40" y="392.90" font-size="11.8" text-anchor="middle">10<tspan dx="0" dy="-4.2" font-size="8">2</tspan></text>
<text x="251.55" y="412.00" font-size="16.1" text-anchor="middle">Frequency (Hz)</text>
<path d="M357.47 246.50V373.70M390.43 246.50V373.70M324.50 278.30H423.40M324.50 310.10H423.40M324.50 341.90H423.40" stroke="#383838" stroke-width="0.8" fill="none"/>
<path d="M324.50 246.50v-5.6M324.50 373.70v5.6M357.47 246.50v-5.6M357.47 373.70v5.6M390.43 246.50v-5.6M390.43 373.70v5.6M423.40 246.50v-5.6M423.40 373.70v5.6M324.50 373.70h-5.8M423.40 373.70h5.8M324.50 341.90h-5.8M423.40 341.90h5.8M324.50 310.10h-5.8M423.40 310.10h5.8M324.50 278.30h-5.8M423.40 278.30h5.8M324.50 246.50h-5.8M423.40 246.50h5.8" stroke="#333" stroke-width="1.0" fill="none"/>
<path d="M334.42 246.50v-2.8M334.42 373.70v2.8M340.23 246.50v-2.8M340.23 373.70v2.8M344.35 246.50v-2.8M344.35 373.70v2.8M347.54 246.50v-2.8M347.54 373.70v2.8M350.15 246.50v-2.8M350.15 373.70v2.8M352.36 246.50v-2.8M352.36 373.70v2.8M354.27 246.50v-2.8M354.27 373.70v2.8M355.96 246.50v-2.8M355.96 373.70v2.8M367.39 246.50v-2.8M367.39 373.70v2.8M373.20 246.50v-2.8M373.20 373.70v2.8M377.31 246.50v-2.8M377.31 373.70v2.8M380.51 246.50v-2.8M380.51 373.70v2.8M383.12 246.50v-2.8M383.12 373.70v2.8M385.33 246.50v-2.8M385.33 373.70v2.8M387.24 246.50v-2.8M387.24 373.70v2.8M388.92 246.50v-2.8M388.92 373.70v2.8M400.36 246.50v-2.8M400.36 373.70v2.8M406.16 246.50v-2.8M406.16 373.70v2.8M410.28 246.50v-2.8M410.28 373.70v2.8M413.48 246.50v-2.8M413.48 373.70v2.8M416.09 246.50v-2.8M416.09 373.70v2.8M418.29 246.50v-2.8M418.29 373.70v2.8M420.21 246.50v-2.8M420.21 373.70v2.8M421.89 246.50v-2.8M421.89 373.70v2.8M324.50 364.13h-2.9M423.40 364.13h2.9M324.50 358.53h-2.9M423.40 358.53h2.9M324.50 354.55h-2.9M423.40 354.55h2.9M324.50 351.47h-2.9M423.40 351.47h2.9M324.50 348.95h-2.9M423.40 348.95h2.9M324.50 346.83h-2.9M423.40 346.83h2.9M324.50 344.98h-2.9M423.40 344.98h2.9M324.50 343.36h-2.9M423.40 343.36h2.9M324.50 332.33h-2.9M423.40 332.33h2.9M324.50 326.73h-2.9M423.40 326.73h2.9M324.50 322.75h-2.9M423.40 322.75h2.9M324.50 319.67h-2.9M423.40 319.67h2.9M324.50 317.15h-2.9M423.40 317.15h2.9M324.50 315.03h-2.9M423.40 315.03h2.9M324.50 313.18h-2.9M423.40 313.18h2.9M324.50 311.56h-2.9M423.40 311.56h2.9M324.50 300.53h-2.9M423.40 300.53h2.9M324.50 294.93h-2.9M423.40 294.93h2.9M324.50 290.95h-2.9M423.40 290.95h2.9M324.50 287.87h-2.9M423.40 287.87h2.9M324.50 285.35h-2.9M423.40 285.35h2.9M324.50 283.23h-2.9M423.40 283.23h2.9M324.50 281.38h-2.9M423.40 281.38h2.9M324.50 279.76h-2.9M423.40 279.76h2.9M324.50 268.73h-2.9M423.40 268.73h2.9M324.50 263.13h-2.9M423.40 263.13h2.9M324.50 259.15h-2.9M423.40 259.15h2.9M324.50 256.07h-2.9M423.40 256.07h2.9M324.50 253.55h-2.9M423.40 253.55h2.9M324.50 251.43h-2.9M423.40 251.43h2.9M324.50 249.58h-2.9M423.40 249.58h2.9M324.50 247.96h-2.9M423.40 247.96h2.9" stroke="#333" stroke-width="0.9" fill="none"/>
<path d="M324.4 355.4L326.2 354.9L328.2 353.9L329.2 351.7L330.0 344.2L330.7 332.3L331.4 320.4L332.2 311.5L332.9 305.5L334.0 301.8L335.2 300.3L336.2 299.9L337.4 301.1L338.4 304.0L339.3 307.0L340.1 308.5L340.8 302.5L341.6 296.6L342.3 294.4L343.0 296.6L343.8 305.5L344.5 311.5L345.3 314.5L346.0 308.5L346.8 302.5L347.5 299.6L348.3 301.1L349.0 307.0L349.7 302.5L350.5 298.8L351.2 301.1L352.0 305.5L352.7 304.0L353.5 302.5L354.2 299.6L355.0 298.1L355.7 302.5L356.4 308.5L357.2 311.5L357.9 314.5L358.7 311.5L359.4 315.9L360.2 307.0L360.9 311.5L361.6 311.5L362.4 308.5L363.1 313.0L363.9 310.0L364.6 311.5L365.4 310.0L366.1 313.0L366.9 315.9L367.6 314.5L368.3 313.0L369.1 311.5L369.8 314.5L370.6 311.5L371.3 310.0L372.1 308.5L372.8 310.0L373.6 311.5L374.3 313.0L375.0 314.5L375.8 313.0L376.5 312.2L377.3 314.5L378.0 313.0L378.8 314.5L379.5 315.9L380.2 314.5L381.0 317.4L381.7 318.9L382.5 320.4L383.2 319.7L384.0 320.4L384.7 323.4L385.5 321.9L386.2 320.4L386.9 319.7L387.7 320.4L388.4 321.1L389.2 320.4L389.9 320.4L390.7 321.9L391.4 324.9L392.2 326.4L392.8 329.3L393.3 341.2L393.9 353.1L394.8 363.6L395.7 373.7" stroke="#1c1c1c" stroke-width="1.55" fill="none" stroke-linejoin="round"/>
<path d="M324.0 332.3L325.2 333.8L326.2 335.3L327.0 336.8L327.7 332.3L328.5 327.8L329.2 326.4L330.0 329.3L330.5 332.3L331.1 330.8L331.7 320.4L332.5 314.5L333.2 311.5L334.0 309.2L334.7 308.5L335.5 311.5L336.2 315.9L336.9 318.2L337.7 314.5L338.4 313.0L339.2 312.2L339.9 311.5L340.7 311.5L341.4 305.5L342.2 299.6L342.9 302.5L343.6 308.5L344.4 311.5L345.1 315.9L345.9 317.4L346.6 315.9L347.4 318.9L348.1 321.9L348.9 315.9L349.6 308.5L350.3 304.0L351.1 302.5L351.8 304.8L352.6 307.0L353.3 308.5L354.1 311.5L354.8 314.5L355.5 311.5L356.3 314.5L357.0 323.4L357.8 330.8L358.5 326.4L359.3 327.8L360.0 327.1L360.8 326.4L361.5 327.8L362.2 326.4L363.0 320.4L363.7 317.4L364.5 317.4L365.2 318.9L366.0 320.4L366.7 326.4L367.5 324.9L368.2 320.4L368.9 317.4L369.7 321.9L370.4 326.4L371.2 329.3L371.9 329.3L372.7 324.9L373.4 320.4L374.1 317.4L374.9 315.9L375.6 318.9L376.4 323.4L377.1 329.3L377.9 324.9L378.6 318.9L379.4 316.7L380.1 317.4L380.8 324.9L381.6 335.3L382.3 341.2L383.1 342.7L383.8 335.3L384.6 329.3L385.3 327.8L386.1 332.3L386.8 326.4L387.5 320.4L388.3 315.9L389.0 314.5L389.8 317.4L390.5 320.4L391.3 321.9L392.0 320.4L392.8 320.4L393.3 326.4L393.9 342.7L394.5 353.1L395.1 359.1L395.7 365.0L396.3 372.5" stroke="#e6202a" stroke-width="1.55" fill="none" stroke-linejoin="round"/>
<rect x="324.50" y="246.50" width="98.90" height="127.20" stroke="#262626" stroke-width="1.6" fill="none"/>
<text x="377.35" y="236.50" font-size="12.2" text-anchor="middle">G033 NS</text>
<text x="324.50" y="392.90" font-size="11.8" text-anchor="middle">10<tspan dx="-1.2" dy="-4.2" font-size="8">-1</tspan></text>
<text x="357.47" y="392.90" font-size="11.8" text-anchor="middle">10<tspan dx="0" dy="-4.2" font-size="8">0</tspan></text>
<text x="390.43" y="392.90" font-size="11.8" text-anchor="middle">10<tspan dx="0" dy="-4.2" font-size="8">1</tspan></text>
<text x="423.40" y="392.90" font-size="11.8" text-anchor="middle">10<tspan dx="0" dy="-4.2" font-size="8">2</tspan></text>
<text x="378.55" y="412.00" font-size="16.1" text-anchor="middle">Frequency (Hz)</text>
<path d="M484.77 246.50V373.70M517.73 246.50V373.70M451.80 278.30H550.70M451.80 310.10H550.70M451.80 341.90H550.70" stroke="#383838" stroke-width="0.8" fill="none"/>
<path d="M451.80 246.50v-5.6M451.80 373.70v5.6M484.77 246.50v-5.6M484.77 373.70v5.6M517.73 246.50v-5.6M517.73 373.70v5.6M550.70 246.50v-5.6M550.70 373.70v5.6M451.80 373.70h-5.8M550.70 373.70h5.8M451.80 341.90h-5.8M550.70 341.90h5.8M451.80 310.10h-5.8M550.70 310.10h5.8M451.80 278.30h-5.8M550.70 278.30h5.8M451.80 246.50h-5.8M550.70 246.50h5.8" stroke="#333" stroke-width="1.0" fill="none"/>
<path d="M461.72 246.50v-2.8M461.72 373.70v2.8M467.53 246.50v-2.8M467.53 373.70v2.8M471.65 246.50v-2.8M471.65 373.70v2.8M474.84 246.50v-2.8M474.84 373.70v2.8M477.45 246.50v-2.8M477.45 373.70v2.8M479.66 246.50v-2.8M479.66 373.70v2.8M481.57 246.50v-2.8M481.57 373.70v2.8M483.26 246.50v-2.8M483.26 373.70v2.8M494.69 246.50v-2.8M494.69 373.70v2.8M500.50 246.50v-2.8M500.50 373.70v2.8M504.61 246.50v-2.8M504.61 373.70v2.8M507.81 246.50v-2.8M507.81 373.70v2.8M510.42 246.50v-2.8M510.42 373.70v2.8M512.63 246.50v-2.8M512.63 373.70v2.8M514.54 246.50v-2.8M514.54 373.70v2.8M516.22 246.50v-2.8M516.22 373.70v2.8M527.66 246.50v-2.8M527.66 373.70v2.8M533.46 246.50v-2.8M533.46 373.70v2.8M537.58 246.50v-2.8M537.58 373.70v2.8M540.78 246.50v-2.8M540.78 373.70v2.8M543.39 246.50v-2.8M543.39 373.70v2.8M545.59 246.50v-2.8M545.59 373.70v2.8M547.51 246.50v-2.8M547.51 373.70v2.8M549.19 246.50v-2.8M549.19 373.70v2.8M451.80 364.13h-2.9M550.70 364.13h2.9M451.80 358.53h-2.9M550.70 358.53h2.9M451.80 354.55h-2.9M550.70 354.55h2.9M451.80 351.47h-2.9M550.70 351.47h2.9M451.80 348.95h-2.9M550.70 348.95h2.9M451.80 346.83h-2.9M550.70 346.83h2.9M451.80 344.98h-2.9M550.70 344.98h2.9M451.80 343.36h-2.9M550.70 343.36h2.9M451.80 332.33h-2.9M550.70 332.33h2.9M451.80 326.73h-2.9M550.70 326.73h2.9M451.80 322.75h-2.9M550.70 322.75h2.9M451.80 319.67h-2.9M550.70 319.67h2.9M451.80 317.15h-2.9M550.70 317.15h2.9M451.80 315.03h-2.9M550.70 315.03h2.9M451.80 313.18h-2.9M550.70 313.18h2.9M451.80 311.56h-2.9M550.70 311.56h2.9M451.80 300.53h-2.9M550.70 300.53h2.9M451.80 294.93h-2.9M550.70 294.93h2.9M451.80 290.95h-2.9M550.70 290.95h2.9M451.80 287.87h-2.9M550.70 287.87h2.9M451.80 285.35h-2.9M550.70 285.35h2.9M451.80 283.23h-2.9M550.70 283.23h2.9M451.80 281.38h-2.9M550.70 281.38h2.9M451.80 279.76h-2.9M550.70 279.76h2.9M451.80 268.73h-2.9M550.70 268.73h2.9M451.80 263.13h-2.9M550.70 263.13h2.9M451.80 259.15h-2.9M550.70 259.15h2.9M451.80 256.07h-2.9M550.70 256.07h2.9M451.80 253.55h-2.9M550.70 253.55h2.9M451.80 251.43h-2.9M550.70 251.43h2.9M451.80 249.58h-2.9M550.70 249.58h2.9M451.80 247.96h-2.9M550.70 247.96h2.9" stroke="#333" stroke-width="0.9" fill="none"/>
<path d="M451.7 336.8L452.8 335.3L454.0 335.0L455.0 332.3L455.9 329.3L457.0 326.4L457.7 320.4L458.4 313.0L459.2 307.0L459.9 302.5L460.7 300.3L461.4 301.1L462.2 302.5L462.9 301.8L463.6 302.5L464.4 301.1L465.1 300.3L465.9 302.5L466.6 304.0L467.4 298.1L468.1 292.1L468.9 286.2L469.6 281.7L470.3 275.8L471.1 270.6L471.8 269.1L472.6 272.0L473.3 274.3L474.1 272.0L474.8 274.3L475.6 277.2L476.3 279.5L477.0 275.8L477.8 273.5L478.5 276.5L479.3 280.2L480.0 283.2L480.8 280.2L481.5 277.2L482.2 275.8L483.0 273.5L483.7 272.8L484.5 275.8L485.2 281.7L486.0 284.7L486.7 285.4L487.5 283.9L488.2 283.2L488.9 286.2L489.7 292.1L490.4 301.1L491.2 304.0L491.9 299.6L492.7 295.1L493.4 290.6L494.2 287.7L494.9 284.7L495.6 283.2L496.4 283.2L497.1 284.7L497.9 286.2L498.6 289.2L499.4 292.1L500.1 293.6L500.9 295.1L501.6 299.6L502.3 302.5L503.1 298.1L503.8 296.6L504.6 299.6L505.3 293.6L506.1 290.6L506.8 289.9L507.5 290.6L508.3 293.6L509.0 296.6L509.8 298.1L510.5 295.1L511.3 294.4L512.0 295.9L512.8 296.6L513.5 299.6L514.2 301.1L515.0 302.5L515.7 302.5L516.5 304.0L517.2 305.5L518.0 310.0L518.7 314.5L519.5 318.9L520.2 326.4L520.9 335.3L521.7 344.2L522.4 351.7L523.2 359.1L523.9 363.6L524.7 366.5L525.4 368.8L526.1 371.0" stroke="#1c1c1c" stroke-width="1.55" fill="none" stroke-linejoin="round"/>
<path d="M451.7 320.4L452.5 321.9L453.2 323.4L454.0 324.1L454.7 320.4L455.5 314.5L456.2 317.4L457.0 324.9L457.7 317.4L458.4 302.5L459.2 295.1L459.9 294.4L460.7 296.6L461.4 295.1L462.2 290.6L462.9 289.2L463.6 292.1L464.4 295.1L465.1 292.9L465.9 295.1L466.6 296.6L467.4 289.2L468.1 286.2L468.9 284.7L469.6 281.7L470.3 278.0L471.1 274.3L471.8 269.8L472.6 266.1L473.3 264.6L474.1 266.8L474.8 271.3L475.6 275.8L476.3 274.3L477.0 272.8L477.8 275.0L478.5 278.7L479.3 281.7L480.0 284.7L480.8 289.2L481.5 286.2L482.2 282.5L483.0 280.2L483.7 281.7L484.5 278.7L485.2 276.5L486.0 277.2L486.7 280.2L487.5 283.2L488.2 280.2L488.9 275.0L489.7 271.3L490.4 268.3L491.2 269.1L491.9 272.8L492.7 277.2L493.4 280.2L494.2 281.7L494.9 283.2L495.6 278.0L496.4 274.3L497.1 275.8L497.9 280.2L498.6 284.7L499.4 288.4L500.1 287.7L500.9 284.7L501.6 282.5L502.3 283.2L503.1 287.7L503.8 290.6L504.6 293.6L505.3 296.6L506.1 293.6L506.8 295.1L507.5 298.1L508.3 305.5L509.0 315.9L509.8 329.3L510.5 320.4L511.3 310.0L512.0 304.0L512.8 298.1L513.5 295.1L514.2 296.6L515.0 302.5L515.7 307.0L516.5 306.3L517.2 305.5L518.0 308.5L518.7 314.5L519.5 321.9L520.2 323.4L520.9 329.3L521.7 338.3L522.4 347.2L523.2 356.1L523.9 362.1L524.7 363.6L525.4 364.3L526.1 365.0" stroke="#e6202a" stroke-width="1.55" fill="none" stroke-linejoin="round"/>
<rect x="451.80" y="246.50" width="98.90" height="127.20" stroke="#262626" stroke-width="1.6" fill="none"/>
<text x="504.65" y="236.50" font-size="12.2" text-anchor="middle">G045 NS</text>
<text x="451.80" y="392.90" font-size="11.8" text-anchor="middle">10<tspan dx="-1.2" dy="-4.2" font-size="8">-1</tspan></text>
<text x="484.77" y="392.90" font-size="11.8" text-anchor="middle">10<tspan dx="0" dy="-4.2" font-size="8">0</tspan></text>
<text x="517.73" y="392.90" font-size="11.8" text-anchor="middle">10<tspan dx="0" dy="-4.2" font-size="8">1</tspan></text>
<text x="550.70" y="392.90" font-size="11.8" text-anchor="middle">10<tspan dx="0" dy="-4.2" font-size="8">2</tspan></text>
<text x="505.85" y="412.00" font-size="16.1" text-anchor="middle">Frequency (Hz)</text>
<path d="M100.60 465.00V592.20M133.60 465.00V592.20M67.60 496.80H166.60M67.60 528.60H166.60M67.60 560.40H166.60" stroke="#383838" stroke-width="0.8" fill="none"/>
<path d="M67.60 465.00v-5.6M67.60 592.20v5.6M100.60 465.00v-5.6M100.60 592.20v5.6M133.60 465.00v-5.6M133.60 592.20v5.6M166.60 465.00v-5.6M166.60 592.20v5.6M67.60 592.20h-5.8M166.60 592.20h5.8M67.60 560.40h-5.8M166.60 560.40h5.8M67.60 528.60h-5.8M166.60 528.60h5.8M67.60 496.80h-5.8M166.60 496.80h5.8M67.60 465.00h-5.8M166.60 465.00h5.8" stroke="#333" stroke-width="1.0" fill="none"/>
<path d="M77.53 465.00v-2.8M77.53 592.20v2.8M83.35 465.00v-2.8M83.35 592.20v2.8M87.47 465.00v-2.8M87.47 592.20v2.8M90.67 465.00v-2.8M90.67 592.20v2.8M93.28 465.00v-2.8M93.28 592.20v2.8M95.49 465.00v-2.8M95.49 592.20v2.8M97.40 465.00v-2.8M97.40 592.20v2.8M99.09 465.00v-2.8M99.09 592.20v2.8M110.53 465.00v-2.8M110.53 592.20v2.8M116.35 465.00v-2.8M116.35 592.20v2.8M120.47 465.00v-2.8M120.47 592.20v2.8M123.67 465.00v-2.8M123.67 592.20v2.8M126.28 465.00v-2.8M126.28 592.20v2.8M128.49 465.00v-2.8M128.49 592.20v2.8M130.40 465.00v-2.8M130.40 592.20v2.8M132.09 465.00v-2.8M132.09 592.20v2.8M143.53 465.00v-2.8M143.53 592.20v2.8M149.35 465.00v-2.8M149.35 592.20v2.8M153.47 465.00v-2.8M153.47 592.20v2.8M156.67 465.00v-2.8M156.67 592.20v2.8M159.28 465.00v-2.8M159.28 592.20v2.8M161.49 465.00v-2.8M161.49 592.20v2.8M163.40 465.00v-2.8M163.40 592.20v2.8M165.09 465.00v-2.8M165.09 592.20v2.8M67.60 582.63h-2.9M166.60 582.63h2.9M67.60 577.03h-2.9M166.60 577.03h2.9M67.60 573.05h-2.9M166.60 573.05h2.9M67.60 569.97h-2.9M166.60 569.97h2.9M67.60 567.45h-2.9M166.60 567.45h2.9M67.60 565.33h-2.9M166.60 565.33h2.9M67.60 563.48h-2.9M166.60 563.48h2.9M67.60 561.86h-2.9M166.60 561.86h2.9M67.60 550.83h-2.9M166.60 550.83h2.9M67.60 545.23h-2.9M166.60 545.23h2.9M67.60 541.25h-2.9M166.60 541.25h2.9M67.60 538.17h-2.9M166.60 538.17h2.9M67.60 535.65h-2.9M166.60 535.65h2.9M67.60 533.53h-2.9M166.60 533.53h2.9M67.60 531.68h-2.9M166.60 531.68h2.9M67.60 530.06h-2.9M166.60 530.06h2.9M67.60 519.03h-2.9M166.60 519.03h2.9M67.60 513.43h-2.9M166.60 513.43h2.9M67.60 509.45h-2.9M166.60 509.45h2.9M67.60 506.37h-2.9M166.60 506.37h2.9M67.60 503.85h-2.9M166.60 503.85h2.9M67.60 501.73h-2.9M166.60 501.73h2.9M67.60 499.88h-2.9M166.60 499.88h2.9M67.60 498.26h-2.9M166.60 498.26h2.9M67.60 487.23h-2.9M166.60 487.23h2.9M67.60 481.63h-2.9M166.60 481.63h2.9M67.60 477.65h-2.9M166.60 477.65h2.9M67.60 474.57h-2.9M166.60 474.57h2.9M67.60 472.05h-2.9M166.60 472.05h2.9M67.60 469.93h-2.9M166.60 469.93h2.9M67.60 468.08h-2.9M166.60 468.08h2.9M67.60 466.46h-2.9M166.60 466.46h2.9" stroke="#333" stroke-width="0.9" fill="none"/>
<path d="M67.7 566.2L68.5 569.2L69.2 575.1L70.0 582.6L70.6 585.5L71.2 578.1L71.8 566.2L72.5 555.8L73.2 546.8L74.0 539.4L74.7 533.5L75.5 529.0L76.2 524.5L77.0 520.1L77.7 517.1L78.5 516.3L79.2 517.1L79.9 516.3L80.7 515.6L81.4 516.3L82.2 517.1L82.9 518.6L83.7 520.1L84.4 523.0L85.2 521.5L85.9 517.1L86.6 515.6L87.4 514.1L88.1 512.6L88.9 511.9L89.6 514.1L90.4 518.6L91.1 526.0L91.9 518.6L92.6 514.1L93.3 510.4L94.1 509.6L94.8 511.1L95.6 512.6L96.3 515.6L97.1 514.1L97.8 514.9L98.5 517.1L99.3 520.1L100.0 524.5L100.8 526.0L101.5 520.1L102.3 515.6L103.0 514.1L103.8 511.9L104.5 514.1L105.2 516.3L106.0 518.6L106.7 512.6L107.5 506.7L108.2 500.7L109.0 496.2L109.7 495.5L110.5 498.5L111.2 500.7L111.9 494.8L112.7 493.3L113.4 496.2L114.2 497.0L114.9 495.5L115.7 497.7L116.4 499.2L117.1 496.2L117.9 494.0L118.6 494.8L119.4 498.5L120.1 500.7L120.9 497.0L121.6 494.0L122.4 496.2L123.1 503.7L123.8 509.6L124.6 506.7L125.3 503.7L126.1 500.7L126.8 502.2L127.6 505.2L128.3 508.2L129.1 508.9L129.8 506.7L130.5 509.6L131.3 508.2L132.0 505.2L132.8 506.7L133.5 508.2L134.3 508.9L135.0 509.6L135.8 515.6L136.5 521.5L137.2 529.0L138.0 536.4L138.7 543.9L139.5 551.3L140.2 561.7L141.0 569.2L141.7 572.1L142.4 575.1" stroke="#1c1c1c" stroke-width="1.55" fill="none" stroke-linejoin="round"/>
<path d="M67.0 557.3L67.7 558.0L68.5 558.8L69.2 558.0L70.0 555.8L70.7 552.8L71.5 548.3L72.2 543.9L73.0 539.4L73.7 534.9L74.4 530.5L75.2 527.5L75.9 524.5L76.7 521.5L77.4 518.6L78.2 516.3L78.9 515.6L79.6 517.1L80.4 521.5L81.1 529.0L81.9 524.5L82.6 515.6L83.4 514.1L84.1 517.1L84.9 515.6L85.6 513.4L86.3 515.6L87.1 518.6L87.8 517.1L88.6 514.1L89.3 517.1L90.1 521.5L90.8 527.5L91.6 532.0L92.3 539.4L93.0 546.8L93.8 548.3L94.5 543.9L95.3 536.4L96.0 527.5L96.8 524.5L97.5 527.5L98.2 526.0L99.0 527.5L99.7 532.0L100.5 539.4L101.2 540.9L102.0 533.5L102.7 523.0L103.5 520.1L104.2 518.6L104.9 516.3L105.7 515.6L106.4 514.1L107.2 515.6L107.9 518.6L108.7 524.5L109.4 530.5L110.2 532.0L110.9 527.5L111.6 518.6L112.4 511.1L113.1 506.7L113.9 505.2L114.6 508.2L115.4 514.1L116.1 509.6L116.9 500.7L117.6 494.8L118.3 493.3L119.1 500.7L119.8 509.6L120.6 517.1L121.3 518.6L122.1 512.6L122.8 509.6L123.5 511.1L124.3 502.2L125.0 491.8L125.8 487.3L126.5 488.8L127.3 489.6L128.0 492.5L128.8 500.7L129.5 509.6L130.2 517.1L131.0 524.5L131.7 524.5L132.5 517.1L133.2 506.7L134.0 497.7L134.7 490.3L135.5 489.6L136.2 494.8L136.9 509.6L137.7 527.5L138.4 539.4L139.2 548.3L139.9 552.8L140.7 558.8L141.4 563.2L142.1 560.2L142.9 559.5" stroke="#e6202a" stroke-width="1.55" fill="none" stroke-linejoin="round"/>
<rect x="67.60" y="465.00" width="99.00" height="127.20" stroke="#262626" stroke-width="1.6" fill="none"/>
<text x="120.50" y="455.00" font-size="12.2" text-anchor="middle">G041 EW</text>
<text x="67.60" y="610.60" font-size="11.8" text-anchor="middle">10<tspan dx="-1.2" dy="-4.2" font-size="8">-1</tspan></text>
<text x="100.60" y="610.60" font-size="11.8" text-anchor="middle">10<tspan dx="0" dy="-4.2" font-size="8">0</tspan></text>
<text x="133.60" y="610.60" font-size="11.8" text-anchor="middle">10<tspan dx="0" dy="-4.2" font-size="8">1</tspan></text>
<text x="166.60" y="610.60" font-size="11.8" text-anchor="middle">10<tspan dx="0" dy="-4.2" font-size="8">2</tspan></text>
<text x="57.90" y="468.80" font-size="11.8" text-anchor="end">10<tspan dx="0" dy="-4.2" font-size="8">3</tspan></text>
<text x="57.90" y="500.60" font-size="11.8" text-anchor="end">10<tspan dx="0" dy="-4.2" font-size="8">2</tspan></text>
<text x="57.90" y="532.40" font-size="11.8" text-anchor="end">10<tspan dx="0" dy="-4.2" font-size="8">1</tspan></text>
<text x="57.90" y="564.20" font-size="11.8" text-anchor="end">10<tspan dx="0" dy="-4.2" font-size="8">0</tspan></text>
<text x="57.90" y="596.00" font-size="11.8" text-anchor="end">10<tspan dx="-1.2" dy="-4.2" font-size="8">-1</tspan></text>
<text x="121.70" y="630.50" font-size="16.1" text-anchor="middle">Frequency (Hz)</text>
<path d="M227.80 465.00V592.20M260.80 465.00V592.20M194.80 496.80H293.80M194.80 528.60H293.80M194.80 560.40H293.80" stroke="#383838" stroke-width="0.8" fill="none"/>
<path d="M194.80 465.00v-5.6M194.80 592.20v5.6M227.80 465.00v-5.6M227.80 592.20v5.6M260.80 465.00v-5.6M260.80 592.20v5.6M293.80 465.00v-5.6M293.80 592.20v5.6M194.80 592.20h-5.8M293.80 592.20h5.8M194.80 560.40h-5.8M293.80 560.40h5.8M194.80 528.60h-5.8M293.80 528.60h5.8M194.80 496.80h-5.8M293.80 496.80h5.8M194.80 465.00h-5.8M293.80 465.00h5.8" stroke="#333" stroke-width="1.0" fill="none"/>
<path d="M204.73 465.00v-2.8M204.73 592.20v2.8M210.55 465.00v-2.8M210.55 592.20v2.8M214.67 465.00v-2.8M214.67 592.20v2.8M217.87 465.00v-2.8M217.87 592.20v2.8M220.48 465.00v-2.8M220.48 592.20v2.8M222.69 465.00v-2.8M222.69 592.20v2.8M224.60 465.00v-2.8M224.60 592.20v2.8M226.29 465.00v-2.8M226.29 592.20v2.8M237.73 465.00v-2.8M237.73 592.20v2.8M243.55 465.00v-2.8M243.55 592.20v2.8M247.67 465.00v-2.8M247.67 592.20v2.8M250.87 465.00v-2.8M250.87 592.20v2.8M253.48 465.00v-2.8M253.48 592.20v2.8M255.69 465.00v-2.8M255.69 592.20v2.8M257.60 465.00v-2.8M257.60 592.20v2.8M259.29 465.00v-2.8M259.29 592.20v2.8M270.73 465.00v-2.8M270.73 592.20v2.8M276.55 465.00v-2.8M276.55 592.20v2.8M280.67 465.00v-2.8M280.67 592.20v2.8M283.87 465.00v-2.8M283.87 592.20v2.8M286.48 465.00v-2.8M286.48 592.20v2.8M288.69 465.00v-2.8M288.69 592.20v2.8M290.60 465.00v-2.8M290.60 592.20v2.8M292.29 465.00v-2.8M292.29 592.20v2.8M194.80 582.63h-2.9M293.80 582.63h2.9M194.80 577.03h-2.9M293.80 577.03h2.9M194.80 573.05h-2.9M293.80 573.05h2.9M194.80 569.97h-2.9M293.80 569.97h2.9M194.80 567.45h-2.9M293.80 567.45h2.9M194.80 565.33h-2.9M293.80 565.33h2.9M194.80 563.48h-2.9M293.80 563.48h2.9M194.80 561.86h-2.9M293.80 561.86h2.9M194.80 550.83h-2.9M293.80 550.83h2.9M194.80 545.23h-2.9M293.80 545.23h2.9M194.80 541.25h-2.9M293.80 541.25h2.9M194.80 538.17h-2.9M293.80 538.17h2.9M194.80 535.65h-2.9M293.80 535.65h2.9M194.80 533.53h-2.9M293.80 533.53h2.9M194.80 531.68h-2.9M293.80 531.68h2.9M194.80 530.06h-2.9M293.80 530.06h2.9M194.80 519.03h-2.9M293.80 519.03h2.9M194.80 513.43h-2.9M293.80 513.43h2.9M194.80 509.45h-2.9M293.80 509.45h2.9M194.80 506.37h-2.9M293.80 506.37h2.9M194.80 503.85h-2.9M293.80 503.85h2.9M194.80 501.73h-2.9M293.80 501.73h2.9M194.80 499.88h-2.9M293.80 499.88h2.9M194.80 498.26h-2.9M293.80 498.26h2.9M194.80 487.23h-2.9M293.80 487.23h2.9M194.80 481.63h-2.9M293.80 481.63h2.9M194.80 477.65h-2.9M293.80 477.65h2.9M194.80 474.57h-2.9M293.80 474.57h2.9M194.80 472.05h-2.9M293.80 472.05h2.9M194.80 469.93h-2.9M293.80 469.93h2.9M194.80 468.08h-2.9M293.80 468.08h2.9M194.80 466.46h-2.9M293.80 466.46h2.9" stroke="#333" stroke-width="0.9" fill="none"/>
<path d="M194.7 566.2L195.5 563.2L196.2 561.7L197.0 564.7L197.7 567.7L198.5 561.7L199.2 554.3L200.0 548.3L200.7 542.4L201.4 532.0L202.2 524.5L202.9 518.6L203.7 515.6L204.4 512.6L205.2 511.1L205.9 510.4L206.6 511.1L207.4 512.6L208.1 517.1L208.9 518.6L209.6 514.1L210.4 509.6L211.1 509.6L211.9 515.6L212.6 521.5L213.3 520.1L214.1 518.6L214.8 517.1L215.6 514.1L216.3 512.6L217.1 514.1L217.8 517.1L218.6 512.6L219.3 509.6L220.0 512.6L220.8 518.6L221.5 521.5L222.3 517.1L223.0 512.6L223.8 509.6L224.5 508.9L225.2 509.6L226.0 508.2L226.7 509.6L227.5 511.1L228.2 509.6L229.0 508.2L229.7 503.7L230.5 505.2L231.2 509.6L231.9 505.2L232.7 500.7L233.4 497.7L234.2 497.7L234.9 500.7L235.7 503.7L236.4 508.2L237.2 506.7L237.9 503.7L238.6 502.2L239.4 505.2L240.1 503.7L240.9 502.2L241.6 500.7L242.4 499.2L243.1 500.0L243.9 497.7L244.6 495.5L245.3 496.2L246.1 500.0L246.8 505.2L247.6 500.7L248.3 499.2L249.1 502.2L249.8 505.2L250.5 509.6L251.3 512.6L252.0 520.1L252.8 515.6L253.5 512.6L254.3 511.1L255.0 514.1L255.8 518.6L256.5 517.1L257.2 514.1L258.0 523.0L258.7 524.5L259.5 523.0L260.2 524.5L261.0 532.0L261.7 539.4L262.5 543.9L263.2 546.8L263.9 554.3L264.7 563.2L265.4 572.1L266.2 579.6L266.9 582.6L267.7 583.3L268.4 584.0L269.1 584.8L269.9 585.5" stroke="#1c1c1c" stroke-width="1.55" fill="none" stroke-linejoin="round"/>
<path d="M194.7 560.2L195.5 558.8L196.2 561.7L197.0 566.2L197.7 569.2L198.5 561.7L199.2 555.8L200.0 551.3L200.7 545.4L201.4 534.9L202.2 527.5L202.9 521.5L203.7 517.1L204.4 512.6L205.2 510.4L205.9 509.6L206.6 510.4L207.4 512.6L208.1 514.1L208.9 517.1L209.6 518.6L210.4 517.1L211.1 520.1L211.9 527.5L212.6 524.5L213.3 520.1L214.1 522.3L214.8 524.5L215.6 518.6L216.3 527.5L217.1 536.4L217.8 524.5L218.6 517.1L219.3 514.1L220.0 518.6L220.8 518.6L221.5 514.1L222.3 511.1L223.0 509.6L223.8 514.1L224.5 517.1L225.2 520.1L226.0 523.0L226.7 526.0L227.5 518.6L228.2 514.1L229.0 512.6L229.7 509.6L230.5 514.1L231.2 520.1L231.9 515.6L232.7 508.2L233.4 500.7L234.2 499.2L234.9 503.7L235.7 511.1L236.4 517.1L237.2 515.6L237.9 508.2L238.6 511.1L239.4 512.6L240.1 510.4L240.9 514.1L241.6 517.1L242.4 521.5L243.1 526.0L243.9 518.6L244.6 512.6L245.3 511.1L246.1 514.1L246.8 517.1L247.6 512.6L248.3 515.6L249.1 514.1L249.8 509.6L250.5 512.6L251.3 521.5L252.0 530.5L252.8 534.9L253.5 529.0L254.3 521.5L255.0 517.1L255.8 524.5L256.5 532.0L257.2 524.5L258.0 517.1L258.7 514.1L259.5 515.6L260.2 521.5L261.0 527.5L261.7 529.0L262.5 527.5L263.2 533.5L263.9 548.3L264.7 560.2L265.4 572.1L266.2 582.6L266.9 584.0L267.7 584.0L268.4 588.5L269.1 591.5" stroke="#e6202a" stroke-width="1.55" fill="none" stroke-linejoin="round"/>
<rect x="194.80" y="465.00" width="99.00" height="127.20" stroke="#262626" stroke-width="1.6" fill="none"/>
<text x="247.70" y="455.00" font-size="12.2" text-anchor="middle">F004 EW</text>
<text x="194.80" y="610.60" font-size="11.8" text-anchor="middle">10<tspan dx="-1.2" dy="-4.2" font-size="8">-1</tspan></text>
<text x="227.80" y="610.60" font-size="11.8" text-anchor="middle">10<tspan dx="0" dy="-4.2" font-size="8">0</tspan></text>
<text x="260.80" y="610.60" font-size="11.8" text-anchor="middle">10<tspan dx="0" dy="-4.2" font-size="8">1</tspan></text>
<text x="293.80" y="610.60" font-size="11.8" text-anchor="middle">10<tspan dx="0" dy="-4.2" font-size="8">2</tspan></text>
<text x="248.90" y="630.50" font-size="16.1" text-anchor="middle">Frequency (Hz)</text>
<path d="M355.20 465.00V592.20M388.20 465.00V592.20M322.20 496.80H421.20M322.20 528.60H421.20M322.20 560.40H421.20" stroke="#383838" stroke-width="0.8" fill="none"/>
<path d="M322.20 465.00v-5.6M322.20 592.20v5.6M355.20 465.00v-5.6M355.20 592.20v5.6M388.20 465.00v-5.6M388.20 592.20v5.6M421.20 465.00v-5.6M421.20 592.20v5.6M322.20 592.20h-5.8M421.20 592.20h5.8M322.20 560.40h-5.8M421.20 560.40h5.8M322.20 528.60h-5.8M421.20 528.60h5.8M322.20 496.80h-5.8M421.20 496.80h5.8M322.20 465.00h-5.8M421.20 465.00h5.8" stroke="#333" stroke-width="1.0" fill="none"/>
<path d="M332.13 465.00v-2.8M332.13 592.20v2.8M337.95 465.00v-2.8M337.95 592.20v2.8M342.07 465.00v-2.8M342.07 592.20v2.8M345.27 465.00v-2.8M345.27 592.20v2.8M347.88 465.00v-2.8M347.88 592.20v2.8M350.09 465.00v-2.8M350.09 592.20v2.8M352.00 465.00v-2.8M352.00 592.20v2.8M353.69 465.00v-2.8M353.69 592.20v2.8M365.13 465.00v-2.8M365.13 592.20v2.8M370.95 465.00v-2.8M370.95 592.20v2.8M375.07 465.00v-2.8M375.07 592.20v2.8M378.27 465.00v-2.8M378.27 592.20v2.8M380.88 465.00v-2.8M380.88 592.20v2.8M383.09 465.00v-2.8M383.09 592.20v2.8M385.00 465.00v-2.8M385.00 592.20v2.8M386.69 465.00v-2.8M386.69 592.20v2.8M398.13 465.00v-2.8M398.13 592.20v2.8M403.95 465.00v-2.8M403.95 592.20v2.8M408.07 465.00v-2.8M408.07 592.20v2.8M411.27 465.00v-2.8M411.27 592.20v2.8M413.88 465.00v-2.8M413.88 592.20v2.8M416.09 465.00v-2.8M416.09 592.20v2.8M418.00 465.00v-2.8M418.00 592.20v2.8M419.69 465.00v-2.8M419.69 592.20v2.8M322.20 582.63h-2.9M421.20 582.63h2.9M322.20 577.03h-2.9M421.20 577.03h2.9M322.20 573.05h-2.9M421.20 573.05h2.9M322.20 569.97h-2.9M421.20 569.97h2.9M322.20 567.45h-2.9M421.20 567.45h2.9M322.20 565.33h-2.9M421.20 565.33h2.9M322.20 563.48h-2.9M421.20 563.48h2.9M322.20 561.86h-2.9M421.20 561.86h2.9M322.20 550.83h-2.9M421.20 550.83h2.9M322.20 545.23h-2.9M421.20 545.23h2.9M322.20 541.25h-2.9M421.20 541.25h2.9M322.20 538.17h-2.9M421.20 538.17h2.9M322.20 535.65h-2.9M421.20 535.65h2.9M322.20 533.53h-2.9M421.20 533.53h2.9M322.20 531.68h-2.9M421.20 531.68h2.9M322.20 530.06h-2.9M421.20 530.06h2.9M322.20 519.03h-2.9M421.20 519.03h2.9M322.20 513.43h-2.9M421.20 513.43h2.9M322.20 509.45h-2.9M421.20 509.45h2.9M322.20 506.37h-2.9M421.20 506.37h2.9M322.20 503.85h-2.9M421.20 503.85h2.9M322.20 501.73h-2.9M421.20 501.73h2.9M322.20 499.88h-2.9M421.20 499.88h2.9M322.20 498.26h-2.9M421.20 498.26h2.9M322.20 487.23h-2.9M421.20 487.23h2.9M322.20 481.63h-2.9M421.20 481.63h2.9M322.20 477.65h-2.9M421.20 477.65h2.9M322.20 474.57h-2.9M421.20 474.57h2.9M322.20 472.05h-2.9M421.20 472.05h2.9M322.20 469.93h-2.9M421.20 469.93h2.9M322.20 468.08h-2.9M421.20 468.08h2.9M322.20 466.46h-2.9M421.20 466.46h2.9" stroke="#333" stroke-width="0.9" fill="none"/>
<path d="M322.4 548.3L323.5 547.6L325.0 546.8L326.2 546.1L326.9 543.9L327.7 542.4L328.4 543.9L329.1 546.1L329.7 542.4L330.5 536.4L331.2 532.0L332.0 529.0L332.7 526.8L333.5 524.5L334.2 523.8L334.9 526.0L335.7 532.0L336.4 539.4L337.2 542.4L337.9 534.9L338.7 527.5L339.4 524.5L340.2 523.0L340.9 521.5L341.6 517.1L342.4 514.1L343.1 513.4L343.9 515.6L344.6 521.5L345.4 527.5L346.1 529.0L346.9 527.5L347.6 523.0L348.3 518.6L349.1 515.6L349.8 512.6L350.6 515.6L351.3 521.5L352.1 518.6L352.8 514.1L353.5 512.6L354.3 516.3L355.0 511.1L355.8 505.2L356.5 504.4L357.3 506.7L358.0 511.1L358.8 512.6L359.5 509.6L360.2 505.2L361.0 501.5L361.7 502.2L362.5 505.2L363.2 507.4L364.0 509.6L364.7 508.2L365.5 509.6L366.2 511.1L366.9 509.6L367.7 512.6L368.4 518.6L369.2 521.5L369.9 517.1L370.7 514.1L371.4 515.6L372.1 521.5L372.9 524.5L373.6 521.5L374.4 524.5L375.1 526.0L375.9 521.5L376.6 517.1L377.4 514.1L378.1 515.6L378.8 514.9L379.6 516.3L380.3 517.1L381.1 515.6L381.8 516.3L382.6 520.1L383.3 523.0L384.1 523.0L384.8 524.5L385.5 527.5L386.3 529.0L387.0 530.5L387.8 533.5L388.5 542.4L389.3 548.3L390.0 554.3L390.8 560.2L391.5 569.2L392.2 575.1L393.0 581.1L393.7 587.0L394.5 592.2" stroke="#1c1c1c" stroke-width="1.55" fill="none" stroke-linejoin="round"/>
<path d="M322.0 555.8L322.7 556.5L323.5 558.0L324.2 560.2L325.0 561.0L325.7 554.3L326.5 548.3L327.2 545.4L328.0 540.9L328.7 532.0L329.4 524.5L330.2 520.1L330.9 515.6L331.7 512.6L332.4 510.4L333.2 510.4L333.9 512.6L334.6 517.1L335.4 518.6L336.1 514.1L336.9 515.6L337.6 518.6L338.4 512.6L339.1 509.6L339.9 506.7L340.6 505.9L341.3 506.7L342.1 509.6L342.8 511.1L343.6 509.6L344.3 511.1L345.1 515.6L345.8 523.0L346.6 527.5L347.3 526.0L348.0 521.5L348.8 514.1L349.5 503.7L350.3 497.7L351.0 496.5L351.8 497.7L352.5 500.7L353.2 505.2L354.0 511.1L354.7 515.6L355.5 506.7L356.2 505.2L357.0 509.6L357.7 521.5L358.5 518.6L359.2 514.1L359.9 514.1L360.7 511.1L361.4 509.6L362.2 511.1L362.9 515.6L363.7 523.0L364.4 533.5L365.2 527.5L365.9 520.1L366.6 515.6L367.4 517.1L368.1 518.6L368.9 515.6L369.6 511.1L370.4 514.1L371.1 520.1L371.9 523.0L372.6 524.5L373.3 527.5L374.1 533.5L374.8 542.4L375.6 540.9L376.3 537.9L377.1 539.4L377.8 536.4L378.5 527.5L379.3 520.1L380.0 517.1L380.8 516.3L381.5 517.1L382.3 523.0L383.0 532.0L383.8 536.4L384.5 540.9L385.2 539.4L386.0 534.9L386.7 532.0L387.5 529.0L388.2 529.0L389.0 530.5L389.7 536.4L390.5 548.3L391.2 560.2L391.9 572.1L392.7 581.1L393.4 585.5L394.2 590.0L394.9 592.2" stroke="#e6202a" stroke-width="1.55" fill="none" stroke-linejoin="round"/>
<rect x="322.20" y="465.00" width="99.00" height="127.20" stroke="#262626" stroke-width="1.6" fill="none"/>
<text x="375.10" y="455.00" font-size="12.2" text-anchor="middle">G014 EW</text>
<text x="322.20" y="610.60" font-size="11.8" text-anchor="middle">10<tspan dx="-1.2" dy="-4.2" font-size="8">-1</tspan></text>
<text x="355.20" y="610.60" font-size="11.8" text-anchor="middle">10<tspan dx="0" dy="-4.2" font-size="8">0</tspan></text>
<text x="388.20" y="610.60" font-size="11.8" text-anchor="middle">10<tspan dx="0" dy="-4.2" font-size="8">1</tspan></text>
<text x="421.20" y="610.60" font-size="11.8" text-anchor="middle">10<tspan dx="0" dy="-4.2" font-size="8">2</tspan></text>
<text x="376.30" y="630.50" font-size="16.1" text-anchor="middle">Frequency (Hz)</text>
<path d="M482.40 465.00V592.20M515.40 465.00V592.20M449.40 496.80H548.40M449.40 528.60H548.40M449.40 560.40H548.40" stroke="#383838" stroke-width="0.8" fill="none"/>
<path d="M449.40 465.00v-5.6M449.40 592.20v5.6M482.40 465.00v-5.6M482.40 592.20v5.6M515.40 465.00v-5.6M515.40 592.20v5.6M548.40 465.00v-5.6M548.40 592.20v5.6M449.40 592.20h-5.8M548.40 592.20h5.8M449.40 560.40h-5.8M548.40 560.40h5.8M449.40 528.60h-5.8M548.40 528.60h5.8M449.40 496.80h-5.8M548.40 496.80h5.8M449.40 465.00h-5.8M548.40 465.00h5.8" stroke="#333" stroke-width="1.0" fill="none"/>
<path d="M459.33 465.00v-2.8M459.33 592.20v2.8M465.15 465.00v-2.8M465.15 592.20v2.8M469.27 465.00v-2.8M469.27 592.20v2.8M472.47 465.00v-2.8M472.47 592.20v2.8M475.08 465.00v-2.8M475.08 592.20v2.8M477.29 465.00v-2.8M477.29 592.20v2.8M479.20 465.00v-2.8M479.20 592.20v2.8M480.89 465.00v-2.8M480.89 592.20v2.8M492.33 465.00v-2.8M492.33 592.20v2.8M498.15 465.00v-2.8M498.15 592.20v2.8M502.27 465.00v-2.8M502.27 592.20v2.8M505.47 465.00v-2.8M505.47 592.20v2.8M508.08 465.00v-2.8M508.08 592.20v2.8M510.29 465.00v-2.8M510.29 592.20v2.8M512.20 465.00v-2.8M512.20 592.20v2.8M513.89 465.00v-2.8M513.89 592.20v2.8M525.33 465.00v-2.8M525.33 592.20v2.8M531.15 465.00v-2.8M531.15 592.20v2.8M535.27 465.00v-2.8M535.27 592.20v2.8M538.47 465.00v-2.8M538.47 592.20v2.8M541.08 465.00v-2.8M541.08 592.20v2.8M543.29 465.00v-2.8M543.29 592.20v2.8M545.20 465.00v-2.8M545.20 592.20v2.8M546.89 465.00v-2.8M546.89 592.20v2.8M449.40 582.63h-2.9M548.40 582.63h2.9M449.40 577.03h-2.9M548.40 577.03h2.9M449.40 573.05h-2.9M548.40 573.05h2.9M449.40 569.97h-2.9M548.40 569.97h2.9M449.40 567.45h-2.9M548.40 567.45h2.9M449.40 565.33h-2.9M548.40 565.33h2.9M449.40 563.48h-2.9M548.40 563.48h2.9M449.40 561.86h-2.9M548.40 561.86h2.9M449.40 550.83h-2.9M548.40 550.83h2.9M449.40 545.23h-2.9M548.40 545.23h2.9M449.40 541.25h-2.9M548.40 541.25h2.9M449.40 538.17h-2.9M548.40 538.17h2.9M449.40 535.65h-2.9M548.40 535.65h2.9M449.40 533.53h-2.9M548.40 533.53h2.9M449.40 531.68h-2.9M548.40 531.68h2.9M449.40 530.06h-2.9M548.40 530.06h2.9M449.40 519.03h-2.9M548.40 519.03h2.9M449.40 513.43h-2.9M548.40 513.43h2.9M449.40 509.45h-2.9M548.40 509.45h2.9M449.40 506.37h-2.9M548.40 506.37h2.9M449.40 503.85h-2.9M548.40 503.85h2.9M449.40 501.73h-2.9M548.40 501.73h2.9M449.40 499.88h-2.9M548.40 499.88h2.9M449.40 498.26h-2.9M548.40 498.26h2.9M449.40 487.23h-2.9M548.40 487.23h2.9M449.40 481.63h-2.9M548.40 481.63h2.9M449.40 477.65h-2.9M548.40 477.65h2.9M449.40 474.57h-2.9M548.40 474.57h2.9M449.40 472.05h-2.9M548.40 472.05h2.9M449.40 469.93h-2.9M548.40 469.93h2.9M449.40 468.08h-2.9M548.40 468.08h2.9M449.40 466.46h-2.9M548.40 466.46h2.9" stroke="#333" stroke-width="0.9" fill="none"/>
<path d="M449.4 558.0L450.2 558.8L450.9 561.0L451.7 561.7L452.4 552.8L453.2 542.4L453.9 536.4L454.7 530.5L455.4 526.0L456.1 521.5L456.9 518.6L457.6 516.3L458.4 517.1L459.1 521.5L459.9 527.5L460.6 533.5L461.4 535.7L462.1 532.0L462.8 526.0L463.6 523.0L464.3 520.1L465.1 518.6L465.8 514.1L466.6 509.6L467.3 508.9L468.0 514.1L468.8 521.5L469.5 524.5L470.3 520.1L471.0 517.1L471.8 518.6L472.5 521.5L473.3 524.5L474.0 521.5L474.7 517.1L475.5 516.3L476.2 518.6L477.0 523.0L477.7 518.6L478.5 515.6L479.2 514.1L480.0 511.1L480.7 514.1L481.4 512.6L482.2 515.6L482.9 521.5L483.7 529.0L484.4 532.7L485.2 529.0L485.9 521.5L486.6 517.1L487.4 515.6L488.1 512.6L488.9 509.6L489.6 511.1L490.4 508.2L491.1 505.2L491.9 506.7L492.6 509.6L493.3 511.1L494.1 508.2L494.8 506.7L495.6 508.2L496.3 505.2L497.1 503.7L497.8 505.2L498.6 504.4L499.3 506.7L500.0 505.2L500.8 502.2L501.5 500.7L502.3 499.2L503.0 505.2L503.8 511.1L504.5 514.1L505.2 518.6L506.0 520.1L506.7 521.5L507.5 520.1L508.2 521.5L509.0 523.0L509.7 526.0L510.5 524.5L511.2 527.5L511.9 530.5L512.7 532.0L513.4 530.5L514.2 529.0L514.9 527.5L515.7 530.5L516.4 534.9L517.2 543.9L517.9 551.3L518.6 557.3L519.4 564.7L520.1 572.1L520.9 581.1L521.6 588.5L522.4 590.7L523.1 591.5L523.9 592.2" stroke="#1c1c1c" stroke-width="1.55" fill="none" stroke-linejoin="round"/>
<path d="M449.4 566.2L450.2 569.2L450.9 563.2L451.7 557.3L452.4 551.3L453.2 545.4L453.9 537.9L454.7 532.0L455.4 527.5L456.1 526.0L456.9 523.0L457.6 521.5L458.4 518.6L459.1 514.1L459.9 509.6L460.6 508.2L461.4 506.7L462.1 505.2L462.8 502.9L463.6 500.7L464.3 500.0L465.1 499.2L465.8 498.5L466.6 499.2L467.3 497.7L468.0 496.2L468.8 494.8L469.5 494.0L470.3 499.2L471.0 497.7L471.8 496.2L472.5 499.2L473.3 500.7L474.0 497.7L474.7 491.8L475.5 489.6L476.2 491.0L477.0 490.3L477.7 491.0L478.5 491.8L479.2 490.3L480.0 490.0L480.7 491.8L481.4 494.8L482.2 500.7L482.9 506.7L483.7 509.6L484.4 511.1L485.2 509.6L485.9 508.2L486.6 505.2L487.4 501.5L488.1 501.5L488.9 505.9L489.6 509.6L490.4 509.6L491.1 514.1L491.9 521.5L492.6 524.5L493.3 521.5L494.1 515.6L494.8 512.6L495.6 511.1L496.3 512.6L497.1 514.1L497.8 511.9L498.6 512.6L499.3 514.1L500.0 517.1L500.8 521.5L501.5 517.1L502.3 518.6L503.0 521.5L503.8 518.6L504.5 523.0L505.2 526.0L506.0 529.0L506.7 524.5L507.5 520.1L508.2 521.5L509.0 527.5L509.7 530.5L510.5 526.0L511.2 527.5L511.9 530.5L512.7 529.0L513.4 524.5L514.2 520.8L514.9 521.5L515.7 527.5L516.4 532.0L517.2 536.4L517.9 545.4L518.6 554.3L519.4 561.7L520.1 569.2L520.9 578.1L521.6 585.5L522.4 589.3L523.1 590.7L523.9 592.2" stroke="#e6202a" stroke-width="1.55" fill="none" stroke-linejoin="round"/>
<rect x="449.40" y="465.00" width="99.00" height="127.20" stroke="#262626" stroke-width="1.6" fill="none"/>
<text x="502.30" y="455.00" font-size="12.2" text-anchor="middle">G002 EW</text>
<text x="449.40" y="610.60" font-size="11.8" text-anchor="middle">10<tspan dx="-1.2" dy="-4.2" font-size="8">-1</tspan></text>
<text x="482.40" y="610.60" font-size="11.8" text-anchor="middle">10<tspan dx="0" dy="-4.2" font-size="8">0</tspan></text>
<text x="515.40" y="610.60" font-size="11.8" text-anchor="middle">10<tspan dx="0" dy="-4.2" font-size="8">1</tspan></text>
<text x="548.40" y="610.60" font-size="11.8" text-anchor="middle">10<tspan dx="0" dy="-4.2" font-size="8">2</tspan></text>
<text x="503.50" y="630.50" font-size="16.1" text-anchor="middle">Frequency (Hz)</text>
<path d="M609.50 465.00V592.20M642.50 465.00V592.20M576.50 496.80H675.50M576.50 528.60H675.50M576.50 560.40H675.50" stroke="#383838" stroke-width="0.8" fill="none"/>
<path d="M576.50 465.00v-5.6M576.50 592.20v5.6M609.50 465.00v-5.6M609.50 592.20v5.6M642.50 465.00v-5.6M642.50 592.20v5.6M675.50 465.00v-5.6M675.50 592.20v5.6M576.50 592.20h-5.8M675.50 592.20h5.8M576.50 560.40h-5.8M675.50 560.40h5.8M576.50 528.60h-5.8M675.50 528.60h5.8M576.50 496.80h-5.8M675.50 496.80h5.8M576.50 465.00h-5.8M675.50 465.00h5.8" stroke="#333" stroke-width="1.0" fill="none"/>
<path d="M586.43 465.00v-2.8M586.43 592.20v2.8M592.25 465.00v-2.8M592.25 592.20v2.8M596.37 465.00v-2.8M596.37 592.20v2.8M599.57 465.00v-2.8M599.57 592.20v2.8M602.18 465.00v-2.8M602.18 592.20v2.8M604.39 465.00v-2.8M604.39 592.20v2.8M606.30 465.00v-2.8M606.30 592.20v2.8M607.99 465.00v-2.8M607.99 592.20v2.8M619.43 465.00v-2.8M619.43 592.20v2.8M625.25 465.00v-2.8M625.25 592.20v2.8M629.37 465.00v-2.8M629.37 592.20v2.8M632.57 465.00v-2.8M632.57 592.20v2.8M635.18 465.00v-2.8M635.18 592.20v2.8M637.39 465.00v-2.8M637.39 592.20v2.8M639.30 465.00v-2.8M639.30 592.20v2.8M640.99 465.00v-2.8M640.99 592.20v2.8M652.43 465.00v-2.8M652.43 592.20v2.8M658.25 465.00v-2.8M658.25 592.20v2.8M662.37 465.00v-2.8M662.37 592.20v2.8M665.57 465.00v-2.8M665.57 592.20v2.8M668.18 465.00v-2.8M668.18 592.20v2.8M670.39 465.00v-2.8M670.39 592.20v2.8M672.30 465.00v-2.8M672.30 592.20v2.8M673.99 465.00v-2.8M673.99 592.20v2.8M576.50 582.63h-2.9M675.50 582.63h2.9M576.50 577.03h-2.9M675.50 577.03h2.9M576.50 573.05h-2.9M675.50 573.05h2.9M576.50 569.97h-2.9M675.50 569.97h2.9M576.50 567.45h-2.9M675.50 567.45h2.9M576.50 565.33h-2.9M675.50 565.33h2.9M576.50 563.48h-2.9M675.50 563.48h2.9M576.50 561.86h-2.9M675.50 561.86h2.9M576.50 550.83h-2.9M675.50 550.83h2.9M576.50 545.23h-2.9M675.50 545.23h2.9M576.50 541.25h-2.9M675.50 541.25h2.9M576.50 538.17h-2.9M675.50 538.17h2.9M576.50 535.65h-2.9M675.50 535.65h2.9M576.50 533.53h-2.9M675.50 533.53h2.9M576.50 531.68h-2.9M675.50 531.68h2.9M576.50 530.06h-2.9M675.50 530.06h2.9M576.50 519.03h-2.9M675.50 519.03h2.9M576.50 513.43h-2.9M675.50 513.43h2.9M576.50 509.45h-2.9M675.50 509.45h2.9M576.50 506.37h-2.9M675.50 506.37h2.9M576.50 503.85h-2.9M675.50 503.85h2.9M576.50 501.73h-2.9M675.50 501.73h2.9M576.50 499.88h-2.9M675.50 499.88h2.9M576.50 498.26h-2.9M675.50 498.26h2.9M576.50 487.23h-2.9M675.50 487.23h2.9M576.50 481.63h-2.9M675.50 481.63h2.9M576.50 477.65h-2.9M675.50 477.65h2.9M576.50 474.57h-2.9M675.50 474.57h2.9M576.50 472.05h-2.9M675.50 472.05h2.9M576.50 469.93h-2.9M675.50 469.93h2.9M576.50 468.08h-2.9M675.50 468.08h2.9M576.50 466.46h-2.9M675.50 466.46h2.9" stroke="#333" stroke-width="0.9" fill="none"/>
<path d="M576.4 582.6L577.2 583.3L577.9 581.1L578.7 576.6L579.4 569.2L580.2 557.3L580.9 548.3L581.7 539.4L582.4 530.5L583.1 524.5L583.9 518.6L584.6 514.1L585.4 511.1L586.1 509.6L586.9 510.4L587.6 511.1L588.4 512.6L589.1 514.1L589.8 516.3L590.6 514.1L591.3 512.6L592.1 509.6L592.8 508.2L593.6 505.9L594.3 504.9L595.0 505.2L595.8 506.7L596.5 508.2L597.3 509.6L598.0 511.1L598.8 508.2L599.5 505.2L600.3 503.7L601.0 505.2L601.7 509.6L602.5 515.6L603.2 509.6L604.0 505.9L604.7 508.2L605.5 512.6L606.2 515.6L607.0 518.6L607.7 512.6L608.4 509.6L609.2 508.2L609.9 507.4L610.7 509.6L611.4 514.1L612.2 517.1L612.9 515.6L613.6 518.6L614.4 517.1L615.1 512.6L615.9 509.6L616.6 508.2L617.4 509.6L618.1 514.1L618.9 517.1L619.6 518.6L620.3 515.6L621.1 512.6L621.8 509.6L622.6 506.7L623.3 505.2L624.1 508.2L624.8 512.6L625.6 509.6L626.3 506.7L627.0 505.2L627.8 506.7L628.5 509.6L629.3 511.1L630.0 512.6L630.8 514.1L631.5 515.6L632.2 517.1L633.0 514.1L633.7 512.6L634.5 514.1L635.2 518.6L636.0 524.5L636.7 527.5L637.5 526.0L638.2 524.5L638.9 524.5L639.7 526.0L640.4 527.5L641.2 530.5L641.9 533.5L642.7 532.0L643.4 533.5L644.2 536.4L644.9 539.4L645.6 548.3L646.4 560.2L647.1 572.1L647.9 581.1L648.6 587.0L649.4 590.0L650.1 591.5L650.9 592.2" stroke="#1c1c1c" stroke-width="1.55" fill="none" stroke-linejoin="round"/>
<path d="M576.4 561.0L577.2 558.8L577.9 556.5L578.7 554.3L579.4 552.8L580.2 551.3L580.9 548.3L581.7 539.4L582.4 532.0L583.1 524.5L583.9 520.1L584.6 515.6L585.4 511.1L586.1 509.6L586.9 508.9L587.6 509.6L588.4 511.1L589.1 514.1L589.8 516.3L590.6 521.5L591.3 529.0L592.1 521.5L592.8 511.1L593.6 508.2L594.3 506.7L595.0 505.9L595.8 508.2L596.5 509.6L597.3 511.1L598.0 514.1L598.8 517.1L599.5 509.6L600.3 505.2L601.0 509.6L601.7 512.6L602.5 508.2L603.2 509.6L604.0 512.6L604.7 509.6L605.5 508.2L606.2 509.6L607.0 514.1L607.7 521.5L608.4 526.0L609.2 529.0L609.9 520.1L610.7 512.6L611.4 503.7L612.2 497.7L612.9 497.0L613.6 500.7L614.4 503.7L615.1 505.2L615.9 504.4L616.6 503.7L617.4 506.7L618.1 511.1L618.9 514.1L619.6 515.6L620.3 512.6L621.1 509.6L621.8 508.2L622.6 505.2L623.3 506.7L624.1 514.1L624.8 524.5L625.6 521.5L626.3 517.1L627.0 520.1L627.8 523.0L628.5 521.5L629.3 526.0L630.0 514.1L630.8 509.6L631.5 511.1L632.2 512.6L633.0 511.1L633.7 512.6L634.5 514.1L635.2 517.1L636.0 520.1L636.7 515.6L637.5 527.5L638.2 539.4L638.9 533.5L639.7 532.0L640.4 536.4L641.2 542.4L641.9 548.3L642.7 536.4L643.4 539.4L644.2 549.8L644.9 557.3L645.6 548.3L646.4 554.3L647.1 566.2L647.9 578.1L648.6 585.5L649.4 588.5L650.1 590.7L650.9 592.2" stroke="#e6202a" stroke-width="1.55" fill="none" stroke-linejoin="round"/>
<rect x="576.50" y="465.00" width="99.00" height="127.20" stroke="#262626" stroke-width="1.6" fill="none"/>
<text x="629.40" y="455.00" font-size="12.2" text-anchor="middle">G026 EW</text>
<text x="576.50" y="610.60" font-size="11.8" text-anchor="middle">10<tspan dx="-1.2" dy="-4.2" font-size="8">-1</tspan></text>
<text x="609.50" y="610.60" font-size="11.8" text-anchor="middle">10<tspan dx="0" dy="-4.2" font-size="8">0</tspan></text>
<text x="642.50" y="610.60" font-size="11.8" text-anchor="middle">10<tspan dx="0" dy="-4.2" font-size="8">1</tspan></text>
<text x="675.50" y="610.60" font-size="11.8" text-anchor="middle">10<tspan dx="0" dy="-4.2" font-size="8">2</tspan></text>
<text x="630.60" y="630.50" font-size="16.1" text-anchor="middle">Frequency (Hz)</text>
<path d="M100.60 690.90V818.10M133.60 690.90V818.10M67.60 722.70H166.60M67.60 754.50H166.60M67.60 786.30H166.60" stroke="#383838" stroke-width="0.8" fill="none"/>
<path d="M67.60 690.90v-5.6M67.60 818.10v5.6M100.60 690.90v-5.6M100.60 818.10v5.6M133.60 690.90v-5.6M133.60 818.10v5.6M166.60 690.90v-5.6M166.60 818.10v5.6M67.60 818.10h-5.8M166.60 818.10h5.8M67.60 786.30h-5.8M166.60 786.30h5.8M67.60 754.50h-5.8M166.60 754.50h5.8M67.60 722.70h-5.8M166.60 722.70h5.8M67.60 690.90h-5.8M166.60 690.90h5.8" stroke="#333" stroke-width="1.0" fill="none"/>
<path d="M77.53 690.90v-2.8M77.53 818.10v2.8M83.35 690.90v-2.8M83.35 818.10v2.8M87.47 690.90v-2.8M87.47 818.10v2.8M90.67 690.90v-2.8M90.67 818.10v2.8M93.28 690.90v-2.8M93.28 818.10v2.8M95.49 690.90v-2.8M95.49 818.10v2.8M97.40 690.90v-2.8M97.40 818.10v2.8M99.09 690.90v-2.8M99.09 818.10v2.8M110.53 690.90v-2.8M110.53 818.10v2.8M116.35 690.90v-2.8M116.35 818.10v2.8M120.47 690.90v-2.8M120.47 818.10v2.8M123.67 690.90v-2.8M123.67 818.10v2.8M126.28 690.90v-2.8M126.28 818.10v2.8M128.49 690.90v-2.8M128.49 818.10v2.8M130.40 690.90v-2.8M130.40 818.10v2.8M132.09 690.90v-2.8M132.09 818.10v2.8M143.53 690.90v-2.8M143.53 818.10v2.8M149.35 690.90v-2.8M149.35 818.10v2.8M153.47 690.90v-2.8M153.47 818.10v2.8M156.67 690.90v-2.8M156.67 818.10v2.8M159.28 690.90v-2.8M159.28 818.10v2.8M161.49 690.90v-2.8M161.49 818.10v2.8M163.40 690.90v-2.8M163.40 818.10v2.8M165.09 690.90v-2.8M165.09 818.10v2.8M67.60 808.53h-2.9M166.60 808.53h2.9M67.60 802.93h-2.9M166.60 802.93h2.9M67.60 798.95h-2.9M166.60 798.95h2.9M67.60 795.87h-2.9M166.60 795.87h2.9M67.60 793.35h-2.9M166.60 793.35h2.9M67.60 791.23h-2.9M166.60 791.23h2.9M67.60 789.38h-2.9M166.60 789.38h2.9M67.60 787.76h-2.9M166.60 787.76h2.9M67.60 776.73h-2.9M166.60 776.73h2.9M67.60 771.13h-2.9M166.60 771.13h2.9M67.60 767.15h-2.9M166.60 767.15h2.9M67.60 764.07h-2.9M166.60 764.07h2.9M67.60 761.55h-2.9M166.60 761.55h2.9M67.60 759.43h-2.9M166.60 759.43h2.9M67.60 757.58h-2.9M166.60 757.58h2.9M67.60 755.96h-2.9M166.60 755.96h2.9M67.60 744.93h-2.9M166.60 744.93h2.9M67.60 739.33h-2.9M166.60 739.33h2.9M67.60 735.35h-2.9M166.60 735.35h2.9M67.60 732.27h-2.9M166.60 732.27h2.9M67.60 729.75h-2.9M166.60 729.75h2.9M67.60 727.63h-2.9M166.60 727.63h2.9M67.60 725.78h-2.9M166.60 725.78h2.9M67.60 724.16h-2.9M166.60 724.16h2.9M67.60 713.13h-2.9M166.60 713.13h2.9M67.60 707.53h-2.9M166.60 707.53h2.9M67.60 703.55h-2.9M166.60 703.55h2.9M67.60 700.47h-2.9M166.60 700.47h2.9M67.60 697.95h-2.9M166.60 697.95h2.9M67.60 695.83h-2.9M166.60 695.83h2.9M67.60 693.98h-2.9M166.60 693.98h2.9M67.60 692.36h-2.9M166.60 692.36h2.9" stroke="#333" stroke-width="0.9" fill="none"/>
<path d="M67.7 801.1L68.5 800.4L69.2 801.9L70.0 803.4L70.7 798.1L71.5 792.2L72.2 786.2L73.0 778.8L73.7 769.9L74.4 760.9L75.2 755.0L75.9 753.5L76.7 755.0L77.4 756.5L78.2 758.0L78.9 760.9L79.6 765.4L80.4 774.3L81.1 771.4L81.9 762.4L82.6 753.5L83.4 749.0L84.1 747.5L84.9 746.8L85.6 746.1L86.3 746.8L87.1 750.5L87.8 756.5L88.6 758.0L89.3 753.5L90.1 755.0L90.8 752.0L91.6 744.6L92.3 741.6L93.0 740.1L93.8 740.9L94.5 743.1L95.3 742.3L96.0 744.6L96.8 746.8L97.5 744.6L98.2 747.5L99.0 749.0L99.7 746.1L100.5 744.6L101.2 741.6L102.0 738.6L102.7 735.6L103.5 734.2L104.2 732.7L104.9 731.9L105.7 734.2L106.4 731.2L107.2 726.7L107.9 724.5L108.7 726.7L109.4 729.7L110.2 732.7L110.9 725.2L111.6 718.5L112.4 715.6L113.1 713.3L113.9 711.1L114.6 710.3L115.4 711.8L116.1 714.8L116.9 717.8L117.6 720.8L118.3 722.2L119.1 725.2L119.8 728.2L120.6 731.2L121.3 728.2L122.1 725.2L122.8 726.7L123.5 731.2L124.3 734.2L125.0 737.1L125.8 728.2L126.5 722.2L127.3 726.7L128.0 734.2L128.8 735.6L129.5 732.7L130.2 731.2L131.0 731.9L131.7 733.4L132.5 735.6L133.2 737.1L134.0 740.1L134.7 746.1L135.5 750.5L136.2 756.5L136.9 762.4L137.7 769.9L138.4 777.3L139.2 783.3L139.9 789.2L140.7 795.2L141.4 798.1L142.1 801.1" stroke="#1c1c1c" stroke-width="1.55" fill="none" stroke-linejoin="round"/>
<path d="M67.0 775.1L67.7 775.8L68.5 776.6L69.2 774.3L70.0 773.6L70.7 772.8L71.5 774.3L72.2 780.3L73.0 787.7L73.7 775.8L74.4 765.4L75.2 756.5L75.9 753.5L76.7 753.5L77.4 755.0L78.2 756.5L78.9 760.9L79.6 762.4L80.4 756.5L81.1 750.5L81.9 746.1L82.6 740.1L83.4 737.9L84.1 740.1L84.9 743.1L85.6 738.6L86.3 741.6L87.1 746.1L87.8 750.5L88.6 758.0L89.3 747.5L90.1 741.6L90.8 741.6L91.6 747.5L92.3 755.0L93.0 765.4L93.8 771.4L94.5 765.4L95.3 758.0L96.0 753.5L96.8 750.5L97.5 753.5L98.2 756.5L99.0 759.5L99.7 758.0L100.5 756.5L101.2 753.5L102.0 750.5L102.7 749.0L103.5 747.5L104.2 746.1L104.9 744.6L105.7 741.6L106.4 738.6L107.2 737.1L107.9 740.1L108.7 744.6L109.4 753.5L110.2 759.5L110.9 750.5L111.6 738.6L112.4 741.6L113.1 749.0L113.9 740.1L114.6 738.6L115.4 737.1L116.1 731.2L116.9 720.8L117.6 713.3L118.3 711.1L119.1 714.8L119.8 729.7L120.6 743.1L121.3 738.6L122.1 732.7L122.8 729.7L123.5 728.2L124.3 722.2L125.0 713.3L125.8 707.4L126.5 708.9L127.3 716.3L128.0 725.2L128.8 728.2L129.5 729.7L130.2 734.2L131.0 738.6L131.7 752.0L132.5 750.5L133.2 746.1L134.0 735.6L134.7 728.2L135.5 726.7L136.2 731.2L136.9 743.1L137.7 755.0L138.4 766.9L139.2 777.3L139.9 783.3L140.7 789.2L141.4 793.7L142.1 792.2" stroke="#e6202a" stroke-width="1.55" fill="none" stroke-linejoin="round"/>
<rect x="67.60" y="690.90" width="99.00" height="127.20" stroke="#262626" stroke-width="1.6" fill="none"/>
<text x="120.50" y="680.90" font-size="12.2" text-anchor="middle">G041 NS</text>
<text x="67.60" y="836.50" font-size="11.8" text-anchor="middle">10<tspan dx="-1.2" dy="-4.2" font-size="8">-1</tspan></text>
<text x="100.60" y="836.50" font-size="11.8" text-anchor="middle">10<tspan dx="0" dy="-4.2" font-size="8">0</tspan></text>
<text x="133.60" y="836.50" font-size="11.8" text-anchor="middle">10<tspan dx="0" dy="-4.2" font-size="8">1</tspan></text>
<text x="166.60" y="836.50" font-size="11.8" text-anchor="middle">10<tspan dx="0" dy="-4.2" font-size="8">2</tspan></text>
<text x="57.90" y="694.70" font-size="11.8" text-anchor="end">10<tspan dx="0" dy="-4.2" font-size="8">3</tspan></text>
<text x="57.90" y="726.50" font-size="11.8" text-anchor="end">10<tspan dx="0" dy="-4.2" font-size="8">2</tspan></text>
<text x="57.90" y="758.30" font-size="11.8" text-anchor="end">10<tspan dx="0" dy="-4.2" font-size="8">1</tspan></text>
<text x="57.90" y="790.10" font-size="11.8" text-anchor="end">10<tspan dx="0" dy="-4.2" font-size="8">0</tspan></text>
<text x="57.90" y="821.90" font-size="11.8" text-anchor="end">10<tspan dx="-1.2" dy="-4.2" font-size="8">-1</tspan></text>
<text x="121.70" y="856.40" font-size="16.1" text-anchor="middle">Frequency (Hz)</text>
<path d="M227.80 690.90V818.10M260.80 690.90V818.10M194.80 722.70H293.80M194.80 754.50H293.80M194.80 786.30H293.80" stroke="#383838" stroke-width="0.8" fill="none"/>
<path d="M194.80 690.90v-5.6M194.80 818.10v5.6M227.80 690.90v-5.6M227.80 818.10v5.6M260.80 690.90v-5.6M260.80 818.10v5.6M293.80 690.90v-5.6M293.80 818.10v5.6M194.80 818.10h-5.8M293.80 818.10h5.8M194.80 786.30h-5.8M293.80 786.30h5.8M194.80 754.50h-5.8M293.80 754.50h5.8M194.80 722.70h-5.8M293.80 722.70h5.8M194.80 690.90h-5.8M293.80 690.90h5.8" stroke="#333" stroke-width="1.0" fill="none"/>
<path d="M204.73 690.90v-2.8M204.73 818.10v2.8M210.55 690.90v-2.8M210.55 818.10v2.8M214.67 690.90v-2.8M214.67 818.10v2.8M217.87 690.90v-2.8M217.87 818.10v2.8M220.48 690.90v-2.8M220.48 818.10v2.8M222.69 690.90v-2.8M222.69 818.10v2.8M224.60 690.90v-2.8M224.60 818.10v2.8M226.29 690.90v-2.8M226.29 818.10v2.8M237.73 690.90v-2.8M237.73 818.10v2.8M243.55 690.90v-2.8M243.55 818.10v2.8M247.67 690.90v-2.8M247.67 818.10v2.8M250.87 690.90v-2.8M250.87 818.10v2.8M253.48 690.90v-2.8M253.48 818.10v2.8M255.69 690.90v-2.8M255.69 818.10v2.8M257.60 690.90v-2.8M257.60 818.10v2.8M259.29 690.90v-2.8M259.29 818.10v2.8M270.73 690.90v-2.8M270.73 818.10v2.8M276.55 690.90v-2.8M276.55 818.10v2.8M280.67 690.90v-2.8M280.67 818.10v2.8M283.87 690.90v-2.8M283.87 818.10v2.8M286.48 690.90v-2.8M286.48 818.10v2.8M288.69 690.90v-2.8M288.69 818.10v2.8M290.60 690.90v-2.8M290.60 818.10v2.8M292.29 690.90v-2.8M292.29 818.10v2.8M194.80 808.53h-2.9M293.80 808.53h2.9M194.80 802.93h-2.9M293.80 802.93h2.9M194.80 798.95h-2.9M293.80 798.95h2.9M194.80 795.87h-2.9M293.80 795.87h2.9M194.80 793.35h-2.9M293.80 793.35h2.9M194.80 791.23h-2.9M293.80 791.23h2.9M194.80 789.38h-2.9M293.80 789.38h2.9M194.80 787.76h-2.9M293.80 787.76h2.9M194.80 776.73h-2.9M293.80 776.73h2.9M194.80 771.13h-2.9M293.80 771.13h2.9M194.80 767.15h-2.9M293.80 767.15h2.9M194.80 764.07h-2.9M293.80 764.07h2.9M194.80 761.55h-2.9M293.80 761.55h2.9M194.80 759.43h-2.9M293.80 759.43h2.9M194.80 757.58h-2.9M293.80 757.58h2.9M194.80 755.96h-2.9M293.80 755.96h2.9M194.80 744.93h-2.9M293.80 744.93h2.9M194.80 739.33h-2.9M293.80 739.33h2.9M194.80 735.35h-2.9M293.80 735.35h2.9M194.80 732.27h-2.9M293.80 732.27h2.9M194.80 729.75h-2.9M293.80 729.75h2.9M194.80 727.63h-2.9M293.80 727.63h2.9M194.80 725.78h-2.9M293.80 725.78h2.9M194.80 724.16h-2.9M293.80 724.16h2.9M194.80 713.13h-2.9M293.80 713.13h2.9M194.80 707.53h-2.9M293.80 707.53h2.9M194.80 703.55h-2.9M293.80 703.55h2.9M194.80 700.47h-2.9M293.80 700.47h2.9M194.80 697.95h-2.9M293.80 697.95h2.9M194.80 695.83h-2.9M293.80 695.83h2.9M194.80 693.98h-2.9M293.80 693.98h2.9M194.80 692.36h-2.9M293.80 692.36h2.9" stroke="#333" stroke-width="0.9" fill="none"/>
<path d="M194.7 792.2L195.5 786.2L196.2 784.8L197.0 784.0L197.7 786.2L198.5 783.3L199.2 780.3L200.0 774.3L200.7 768.4L201.4 763.9L202.2 762.4L202.9 765.4L203.7 769.1L204.4 766.9L205.2 758.0L205.9 749.0L206.6 746.1L207.4 744.6L208.1 746.1L208.9 749.0L209.6 753.5L210.4 755.7L211.1 750.5L211.9 744.6L212.6 741.6L213.3 740.1L214.1 741.6L214.8 738.6L215.6 735.6L216.3 734.9L217.1 735.6L217.8 734.2L218.6 732.7L219.3 733.4L220.0 731.9L220.8 731.2L221.5 734.2L222.3 740.1L223.0 738.6L223.8 737.1L224.5 735.6L225.2 734.9L226.0 735.6L226.7 732.7L227.5 729.7L228.2 727.5L229.0 729.7L229.7 735.6L230.5 740.1L231.2 734.2L231.9 731.2L232.7 729.7L233.4 732.7L234.2 735.6L234.9 732.7L235.7 729.7L236.4 731.2L237.2 734.2L237.9 735.6L238.6 732.7L239.4 728.2L240.1 729.7L240.9 734.2L241.6 732.7L242.4 726.7L243.1 723.7L243.9 722.2L244.6 721.5L245.3 725.2L246.1 729.7L246.8 735.6L247.6 734.2L248.3 738.6L249.1 741.6L249.8 740.1L250.5 738.6L251.3 737.1L252.0 735.6L252.8 734.2L253.5 731.2L254.3 732.7L255.0 738.6L255.8 740.1L256.5 738.6L257.2 737.1L258.0 740.1L258.7 744.6L259.5 750.5L260.2 753.5L261.0 756.5L261.7 760.9L262.5 768.4L263.2 775.8L263.9 783.3L264.7 792.2L265.4 799.6L266.2 805.6L266.9 808.6L267.7 810.0L268.4 811.5L269.1 813.0" stroke="#1c1c1c" stroke-width="1.55" fill="none" stroke-linejoin="round"/>
<path d="M194.4 792.2L195.2 784.8L195.9 781.8L196.7 781.0L197.4 781.5L198.2 781.8L198.9 777.3L199.7 771.4L200.4 766.9L201.1 762.4L201.9 758.0L202.6 752.0L203.4 746.1L204.1 740.1L204.9 735.6L205.6 733.4L206.4 731.9L207.1 731.2L207.8 730.4L208.6 731.2L209.3 732.7L210.1 735.6L210.8 740.1L211.6 739.4L212.3 741.6L213.0 746.1L213.8 752.0L214.5 758.0L215.3 758.0L216.0 747.5L216.8 738.6L217.5 735.6L218.3 743.1L219.0 746.1L219.7 738.6L220.5 737.1L221.2 740.1L222.0 744.6L222.7 746.1L223.5 741.6L224.2 740.1L225.0 741.6L225.7 744.6L226.4 747.5L227.2 746.1L227.9 741.6L228.7 738.6L229.4 735.6L230.2 740.1L230.9 744.6L231.6 746.1L232.4 738.6L233.1 731.2L233.9 725.2L234.6 724.5L235.4 729.7L236.1 734.2L236.9 738.6L237.6 743.1L238.3 738.6L239.1 735.6L239.8 741.6L240.6 741.6L241.3 738.6L242.1 740.1L242.8 743.1L243.6 747.5L244.3 752.0L245.0 747.5L245.8 741.6L246.5 738.6L247.3 740.1L248.0 744.6L248.8 747.5L249.5 746.1L250.2 743.1L251.0 747.5L251.7 753.5L252.5 756.5L253.2 758.0L254.0 753.5L254.7 743.1L255.5 740.1L256.2 744.6L256.9 740.1L257.7 738.6L258.4 740.1L259.2 741.6L259.9 746.1L260.7 753.5L261.4 759.5L262.2 758.0L262.9 760.9L263.6 768.4L264.4 780.3L265.1 792.2L265.9 804.1L266.6 807.1L267.4 808.6L268.1 811.5L268.9 813.8" stroke="#e6202a" stroke-width="1.55" fill="none" stroke-linejoin="round"/>
<rect x="194.80" y="690.90" width="99.00" height="127.20" stroke="#262626" stroke-width="1.6" fill="none"/>
<text x="247.70" y="680.90" font-size="12.2" text-anchor="middle">F004 NS</text>
<text x="194.80" y="836.50" font-size="11.8" text-anchor="middle">10<tspan dx="-1.2" dy="-4.2" font-size="8">-1</tspan></text>
<text x="227.80" y="836.50" font-size="11.8" text-anchor="middle">10<tspan dx="0" dy="-4.2" font-size="8">0</tspan></text>
<text x="260.80" y="836.50" font-size="11.8" text-anchor="middle">10<tspan dx="0" dy="-4.2" font-size="8">1</tspan></text>
<text x="293.80" y="836.50" font-size="11.8" text-anchor="middle">10<tspan dx="0" dy="-4.2" font-size="8">2</tspan></text>
<text x="248.90" y="856.40" font-size="16.1" text-anchor="middle">Frequency (Hz)</text>
<path d="M355.20 690.90V818.10M388.20 690.90V818.10M322.20 722.70H421.20M322.20 754.50H421.20M322.20 786.30H421.20" stroke="#383838" stroke-width="0.8" fill="none"/>
<path d="M322.20 690.90v-5.6M322.20 818.10v5.6M355.20 690.90v-5.6M355.20 818.10v5.6M388.20 690.90v-5.6M388.20 818.10v5.6M421.20 690.90v-5.6M421.20 818.10v5.6M322.20 818.10h-5.8M421.20 818.10h5.8M322.20 786.30h-5.8M421.20 786.30h5.8M322.20 754.50h-5.8M421.20 754.50h5.8M322.20 722.70h-5.8M421.20 722.70h5.8M322.20 690.90h-5.8M421.20 690.90h5.8" stroke="#333" stroke-width="1.0" fill="none"/>
<path d="M332.13 690.90v-2.8M332.13 818.10v2.8M337.95 690.90v-2.8M337.95 818.10v2.8M342.07 690.90v-2.8M342.07 818.10v2.8M345.27 690.90v-2.8M345.27 818.10v2.8M347.88 690.90v-2.8M347.88 818.10v2.8M350.09 690.90v-2.8M350.09 818.10v2.8M352.00 690.90v-2.8M352.00 818.10v2.8M353.69 690.90v-2.8M353.69 818.10v2.8M365.13 690.90v-2.8M365.13 818.10v2.8M370.95 690.90v-2.8M370.95 818.10v2.8M375.07 690.90v-2.8M375.07 818.10v2.8M378.27 690.90v-2.8M378.27 818.10v2.8M380.88 690.90v-2.8M380.88 818.10v2.8M383.09 690.90v-2.8M383.09 818.10v2.8M385.00 690.90v-2.8M385.00 818.10v2.8M386.69 690.90v-2.8M386.69 818.10v2.8M398.13 690.90v-2.8M398.13 818.10v2.8M403.95 690.90v-2.8M403.95 818.10v2.8M408.07 690.90v-2.8M408.07 818.10v2.8M411.27 690.90v-2.8M411.27 818.10v2.8M413.88 690.90v-2.8M413.88 818.10v2.8M416.09 690.90v-2.8M416.09 818.10v2.8M418.00 690.90v-2.8M418.00 818.10v2.8M419.69 690.90v-2.8M419.69 818.10v2.8M322.20 808.53h-2.9M421.20 808.53h2.9M322.20 802.93h-2.9M421.20 802.93h2.9M322.20 798.95h-2.9M421.20 798.95h2.9M322.20 795.87h-2.9M421.20 795.87h2.9M322.20 793.35h-2.9M421.20 793.35h2.9M322.20 791.23h-2.9M421.20 791.23h2.9M322.20 789.38h-2.9M421.20 789.38h2.9M322.20 787.76h-2.9M421.20 787.76h2.9M322.20 776.73h-2.9M421.20 776.73h2.9M322.20 771.13h-2.9M421.20 771.13h2.9M322.20 767.15h-2.9M421.20 767.15h2.9M322.20 764.07h-2.9M421.20 764.07h2.9M322.20 761.55h-2.9M421.20 761.55h2.9M322.20 759.43h-2.9M421.20 759.43h2.9M322.20 757.58h-2.9M421.20 757.58h2.9M322.20 755.96h-2.9M421.20 755.96h2.9M322.20 744.93h-2.9M421.20 744.93h2.9M322.20 739.33h-2.9M421.20 739.33h2.9M322.20 735.35h-2.9M421.20 735.35h2.9M322.20 732.27h-2.9M421.20 732.27h2.9M322.20 729.75h-2.9M421.20 729.75h2.9M322.20 727.63h-2.9M421.20 727.63h2.9M322.20 725.78h-2.9M421.20 725.78h2.9M322.20 724.16h-2.9M421.20 724.16h2.9M322.20 713.13h-2.9M421.20 713.13h2.9M322.20 707.53h-2.9M421.20 707.53h2.9M322.20 703.55h-2.9M421.20 703.55h2.9M322.20 700.47h-2.9M421.20 700.47h2.9M322.20 697.95h-2.9M421.20 697.95h2.9M322.20 695.83h-2.9M421.20 695.83h2.9M322.20 693.98h-2.9M421.20 693.98h2.9M322.20 692.36h-2.9M421.20 692.36h2.9" stroke="#333" stroke-width="0.9" fill="none"/>
<path d="M322.4 793.7L323.2 792.2L323.9 790.7L324.7 789.2L325.4 790.0L326.2 795.2L326.6 801.9L327.2 792.2L328.0 780.3L328.7 771.4L329.4 763.9L330.2 758.0L330.9 753.5L331.7 750.5L332.4 749.0L333.2 747.5L333.9 746.1L334.6 744.6L335.4 743.1L336.1 743.8L336.9 745.3L337.6 747.5L338.4 747.5L339.1 746.8L339.9 747.5L340.6 746.1L341.3 747.5L342.1 750.5L342.8 753.5L343.6 747.5L344.3 743.1L345.1 741.6L345.8 740.1L346.6 738.6L347.3 740.1L348.0 741.6L348.8 738.6L349.5 737.1L350.3 735.6L351.0 737.1L351.8 740.1L352.5 734.2L353.2 731.2L354.0 729.7L354.7 735.6L355.5 744.6L356.2 749.0L357.0 743.1L357.7 737.1L358.5 735.6L359.2 734.2L359.9 729.7L360.7 726.0L361.4 726.7L362.2 728.2L362.9 726.7L363.7 731.2L364.4 735.6L365.2 731.2L365.9 726.7L366.6 723.0L367.4 725.2L368.1 729.7L368.9 737.1L369.6 732.7L370.4 731.2L371.1 729.7L371.9 730.4L372.6 731.9L373.3 732.7L374.1 735.6L374.8 738.6L375.6 741.6L376.3 743.1L377.1 746.1L377.8 747.5L378.5 746.1L379.3 743.1L380.0 741.6L380.8 743.1L381.5 740.1L382.3 737.1L383.0 736.4L383.8 738.6L384.5 743.1L385.2 746.1L386.0 747.5L386.7 750.5L387.5 753.5L388.2 759.5L389.0 765.4L389.7 766.9L390.5 766.9L391.2 771.4L391.9 780.3L392.7 792.2L393.4 801.1L394.2 808.6L394.9 812.3L395.7 813.0L396.4 813.8L397.1 814.5" stroke="#1c1c1c" stroke-width="1.55" fill="none" stroke-linejoin="round"/>
<path d="M322.0 769.1L322.7 769.1L323.5 769.1L324.2 768.4L325.0 766.9L325.7 765.4L326.5 763.2L327.2 760.9L328.0 760.2L328.7 763.9L329.4 769.9L330.2 760.9L330.9 750.5L331.7 740.1L332.4 736.4L333.2 736.4L333.9 738.6L334.6 740.1L335.4 741.6L336.1 743.1L336.9 744.6L337.6 740.1L338.4 737.1L339.1 738.6L339.9 743.1L340.6 738.6L341.3 734.2L342.1 730.4L342.8 729.7L343.6 730.4L344.3 732.7L345.1 731.9L345.8 734.2L346.6 738.6L347.3 743.1L348.0 749.0L348.8 753.5L349.5 756.5L350.3 743.1L351.0 735.6L351.8 734.2L352.5 732.7L353.2 740.1L354.0 744.6L354.7 738.6L355.5 735.6L356.2 740.1L357.0 743.1L357.7 740.1L358.5 738.6L359.2 738.6L359.9 735.6L360.7 738.6L361.4 744.6L362.2 734.2L362.9 731.2L363.7 747.5L364.4 758.0L365.2 749.0L365.9 740.1L366.6 743.1L367.4 747.5L368.1 746.1L368.9 749.0L369.6 747.5L370.4 750.5L371.1 741.6L371.9 735.6L372.6 734.2L373.3 740.1L374.1 750.5L374.8 760.9L375.6 774.3L376.3 774.3L377.1 765.4L377.8 759.5L378.5 753.5L379.3 747.5L380.0 743.1L380.8 746.1L381.5 750.5L382.3 758.0L383.0 762.4L383.8 762.4L384.5 760.9L385.2 758.0L386.0 753.5L386.7 749.0L387.5 747.5L388.2 752.0L389.0 758.0L389.7 759.5L390.5 765.4L391.2 766.9L391.9 780.3L392.7 792.2L393.4 804.1L394.2 811.5L394.9 816.0L395.7 817.5" stroke="#e6202a" stroke-width="1.55" fill="none" stroke-linejoin="round"/>
<rect x="322.20" y="690.90" width="99.00" height="127.20" stroke="#262626" stroke-width="1.6" fill="none"/>
<text x="375.10" y="680.90" font-size="12.2" text-anchor="middle">G014 NS</text>
<text x="322.20" y="836.50" font-size="11.8" text-anchor="middle">10<tspan dx="-1.2" dy="-4.2" font-size="8">-1</tspan></text>
<text x="355.20" y="836.50" font-size="11.8" text-anchor="middle">10<tspan dx="0" dy="-4.2" font-size="8">0</tspan></text>
<text x="388.20" y="836.50" font-size="11.8" text-anchor="middle">10<tspan dx="0" dy="-4.2" font-size="8">1</tspan></text>
<text x="421.20" y="836.50" font-size="11.8" text-anchor="middle">10<tspan dx="0" dy="-4.2" font-size="8">2</tspan></text>
<text x="376.30" y="856.40" font-size="16.1" text-anchor="middle">Frequency (Hz)</text>
<path d="M482.40 690.90V818.10M515.40 690.90V818.10M449.40 722.70H548.40M449.40 754.50H548.40M449.40 786.30H548.40" stroke="#383838" stroke-width="0.8" fill="none"/>
<path d="M449.40 690.90v-5.6M449.40 818.10v5.6M482.40 690.90v-5.6M482.40 818.10v5.6M515.40 690.90v-5.6M515.40 818.10v5.6M548.40 690.90v-5.6M548.40 818.10v5.6M449.40 818.10h-5.8M548.40 818.10h5.8M449.40 786.30h-5.8M548.40 786.30h5.8M449.40 754.50h-5.8M548.40 754.50h5.8M449.40 722.70h-5.8M548.40 722.70h5.8M449.40 690.90h-5.8M548.40 690.90h5.8" stroke="#333" stroke-width="1.0" fill="none"/>
<path d="M459.33 690.90v-2.8M459.33 818.10v2.8M465.15 690.90v-2.8M465.15 818.10v2.8M469.27 690.90v-2.8M469.27 818.10v2.8M472.47 690.90v-2.8M472.47 818.10v2.8M475.08 690.90v-2.8M475.08 818.10v2.8M477.29 690.90v-2.8M477.29 818.10v2.8M479.20 690.90v-2.8M479.20 818.10v2.8M480.89 690.90v-2.8M480.89 818.10v2.8M492.33 690.90v-2.8M492.33 818.10v2.8M498.15 690.90v-2.8M498.15 818.10v2.8M502.27 690.90v-2.8M502.27 818.10v2.8M505.47 690.90v-2.8M505.47 818.10v2.8M508.08 690.90v-2.8M508.08 818.10v2.8M510.29 690.90v-2.8M510.29 818.10v2.8M512.20 690.90v-2.8M512.20 818.10v2.8M513.89 690.90v-2.8M513.89 818.10v2.8M525.33 690.90v-2.8M525.33 818.10v2.8M531.15 690.90v-2.8M531.15 818.10v2.8M535.27 690.90v-2.8M535.27 818.10v2.8M538.47 690.90v-2.8M538.47 818.10v2.8M541.08 690.90v-2.8M541.08 818.10v2.8M543.29 690.90v-2.8M543.29 818.10v2.8M545.20 690.90v-2.8M545.20 818.10v2.8M546.89 690.90v-2.8M546.89 818.10v2.8M449.40 808.53h-2.9M548.40 808.53h2.9M449.40 802.93h-2.9M548.40 802.93h2.9M449.40 798.95h-2.9M548.40 798.95h2.9M449.40 795.87h-2.9M548.40 795.87h2.9M449.40 793.35h-2.9M548.40 793.35h2.9M449.40 791.23h-2.9M548.40 791.23h2.9M449.40 789.38h-2.9M548.40 789.38h2.9M449.40 787.76h-2.9M548.40 787.76h2.9M449.40 776.73h-2.9M548.40 776.73h2.9M449.40 771.13h-2.9M548.40 771.13h2.9M449.40 767.15h-2.9M548.40 767.15h2.9M449.40 764.07h-2.9M548.40 764.07h2.9M449.40 761.55h-2.9M548.40 761.55h2.9M449.40 759.43h-2.9M548.40 759.43h2.9M449.40 757.58h-2.9M548.40 757.58h2.9M449.40 755.96h-2.9M548.40 755.96h2.9M449.40 744.93h-2.9M548.40 744.93h2.9M449.40 739.33h-2.9M548.40 739.33h2.9M449.40 735.35h-2.9M548.40 735.35h2.9M449.40 732.27h-2.9M548.40 732.27h2.9M449.40 729.75h-2.9M548.40 729.75h2.9M449.40 727.63h-2.9M548.40 727.63h2.9M449.40 725.78h-2.9M548.40 725.78h2.9M449.40 724.16h-2.9M548.40 724.16h2.9M449.40 713.13h-2.9M548.40 713.13h2.9M449.40 707.53h-2.9M548.40 707.53h2.9M449.40 703.55h-2.9M548.40 703.55h2.9M449.40 700.47h-2.9M548.40 700.47h2.9M449.40 697.95h-2.9M548.40 697.95h2.9M449.40 695.83h-2.9M548.40 695.83h2.9M449.40 693.98h-2.9M548.40 693.98h2.9M449.40 692.36h-2.9M548.40 692.36h2.9" stroke="#333" stroke-width="0.9" fill="none"/>
<path d="M449.4 784.8L450.2 784.0L450.9 784.8L451.7 784.0L452.4 784.8L453.2 785.5L453.9 780.3L454.7 771.4L455.4 760.9L456.1 752.0L456.9 746.1L457.6 743.1L458.4 740.1L459.1 737.1L459.9 735.6L460.6 734.9L461.4 735.6L462.1 737.1L462.8 738.6L463.6 736.4L464.3 734.2L465.1 732.7L465.8 733.4L466.6 734.2L467.3 735.6L468.0 737.1L468.8 734.2L469.5 731.2L470.3 732.7L471.0 737.1L471.8 740.1L472.5 743.1L473.3 746.8L474.0 740.1L474.7 735.6L475.5 734.9L476.2 734.2L477.0 733.4L477.7 732.7L478.5 731.2L479.2 729.7L480.0 730.4L480.7 732.7L481.4 734.9L482.2 737.1L482.9 738.6L483.7 740.1L484.4 743.1L485.2 738.6L485.9 734.2L486.6 731.2L487.4 730.4L488.1 729.7L488.9 731.2L489.6 738.6L490.4 735.6L491.1 731.2L491.9 729.7L492.6 732.7L493.3 734.2L494.1 732.7L494.8 731.2L495.6 730.4L496.3 731.9L497.1 731.2L497.8 732.7L498.6 735.6L499.3 734.2L500.0 732.7L500.8 735.6L501.5 732.7L502.3 729.7L503.0 726.7L503.8 726.0L504.5 729.7L505.2 734.2L506.0 735.6L506.7 738.6L507.5 744.6L508.2 747.5L509.0 749.0L509.7 750.5L510.5 752.0L511.2 753.5L511.9 756.5L512.7 758.7L513.4 759.5L514.2 758.0L514.9 756.5L515.7 759.5L516.4 765.4L517.2 771.4L517.9 777.3L518.6 784.8L519.4 792.2L520.1 799.6L520.9 807.1L521.6 811.5L522.4 814.5L523.1 816.7L523.9 818.1" stroke="#1c1c1c" stroke-width="1.55" fill="none" stroke-linejoin="round"/>
<path d="M449.4 765.4L450.2 765.4L450.9 766.1L451.7 766.1L452.4 766.9L453.2 769.9L453.9 765.4L454.7 758.0L455.4 750.5L456.1 747.5L456.9 744.6L457.6 741.6L458.4 738.6L459.1 735.6L459.9 734.2L460.6 732.7L461.4 731.2L462.1 728.2L462.8 726.7L463.6 727.5L464.3 729.7L465.1 731.9L465.8 731.2L466.6 731.9L467.3 734.2L468.0 735.6L468.8 738.6L469.5 740.1L470.3 737.1L471.0 728.2L471.8 722.2L472.5 721.5L473.3 725.2L474.0 728.2L474.7 720.8L475.5 714.8L476.2 711.8L477.0 709.6L477.7 713.3L478.5 720.8L479.2 723.7L480.0 727.5L480.7 731.2L481.4 735.6L482.2 732.7L482.9 732.7L483.7 731.2L484.4 729.7L485.2 723.7L485.9 720.8L486.6 720.8L487.4 718.5L488.1 719.3L488.9 723.7L489.6 729.7L490.4 731.2L491.1 735.6L491.9 738.6L492.6 741.6L493.3 740.1L494.1 734.2L494.8 728.2L495.6 725.2L496.3 729.7L497.1 734.2L497.8 735.6L498.6 738.6L499.3 741.6L500.0 747.5L500.8 750.5L501.5 749.0L502.3 747.5L503.0 750.5L503.8 749.0L504.5 747.5L505.2 750.5L506.0 753.5L506.7 750.5L507.5 741.6L508.2 737.1L509.0 740.1L509.7 750.5L510.5 755.0L511.2 752.0L511.9 749.0L512.7 748.3L513.4 747.5L514.2 750.5L514.9 753.5L515.7 755.0L516.4 762.4L517.2 771.4L517.9 777.3L518.6 780.3L519.4 783.3L520.1 789.2L520.9 798.1L521.6 807.1L522.4 812.3L523.1 813.8L523.9 815.3" stroke="#e6202a" stroke-width="1.55" fill="none" stroke-linejoin="round"/>
<rect x="449.40" y="690.90" width="99.00" height="127.20" stroke="#262626" stroke-width="1.6" fill="none"/>
<text x="502.30" y="680.90" font-size="12.2" text-anchor="middle">G002 NS</text>
<text x="449.40" y="836.50" font-size="11.8" text-anchor="middle">10<tspan dx="-1.2" dy="-4.2" font-size="8">-1</tspan></text>
<text x="482.40" y="836.50" font-size="11.8" text-anchor="middle">10<tspan dx="0" dy="-4.2" font-size="8">0</tspan></text>
<text x="515.40" y="836.50" font-size="11.8" text-anchor="middle">10<tspan dx="0" dy="-4.2" font-size="8">1</tspan></text>
<text x="548.40" y="836.50" font-size="11.8" text-anchor="middle">10<tspan dx="0" dy="-4.2" font-size="8">2</tspan></text>
<text x="503.50" y="856.40" font-size="16.1" text-anchor="middle">Frequency (Hz)</text>
<path d="M609.50 690.90V818.10M642.50 690.90V818.10M576.50 722.70H675.50M576.50 754.50H675.50M576.50 786.30H675.50" stroke="#383838" stroke-width="0.8" fill="none"/>
<path d="M576.50 690.90v-5.6M576.50 818.10v5.6M609.50 690.90v-5.6M609.50 818.10v5.6M642.50 690.90v-5.6M642.50 818.10v5.6M675.50 690.90v-5.6M675.50 818.10v5.6M576.50 818.10h-5.8M675.50 818.10h5.8M576.50 786.30h-5.8M675.50 786.30h5.8M576.50 754.50h-5.8M675.50 754.50h5.8M576.50 722.70h-5.8M675.50 722.70h5.8M576.50 690.90h-5.8M675.50 690.90h5.8" stroke="#333" stroke-width="1.0" fill="none"/>
<path d="M586.43 690.90v-2.8M586.43 818.10v2.8M592.25 690.90v-2.8M592.25 818.10v2.8M596.37 690.90v-2.8M596.37 818.10v2.8M599.57 690.90v-2.8M599.57 818.10v2.8M602.18 690.90v-2.8M602.18 818.10v2.8M604.39 690.90v-2.8M604.39 818.10v2.8M606.30 690.90v-2.8M606.30 818.10v2.8M607.99 690.90v-2.8M607.99 818.10v2.8M619.43 690.90v-2.8M619.43 818.10v2.8M625.25 690.90v-2.8M625.25 818.10v2.8M629.37 690.90v-2.8M629.37 818.10v2.8M632.57 690.90v-2.8M632.57 818.10v2.8M635.18 690.90v-2.8M635.18 818.10v2.8M637.39 690.90v-2.8M637.39 818.10v2.8M639.30 690.90v-2.8M639.30 818.10v2.8M640.99 690.90v-2.8M640.99 818.10v2.8M652.43 690.90v-2.8M652.43 818.10v2.8M658.25 690.90v-2.8M658.25 818.10v2.8M662.37 690.90v-2.8M662.37 818.10v2.8M665.57 690.90v-2.8M665.57 818.10v2.8M668.18 690.90v-2.8M668.18 818.10v2.8M670.39 690.90v-2.8M670.39 818.10v2.8M672.30 690.90v-2.8M672.30 818.10v2.8M673.99 690.90v-2.8M673.99 818.10v2.8M576.50 808.53h-2.9M675.50 808.53h2.9M576.50 802.93h-2.9M675.50 802.93h2.9M576.50 798.95h-2.9M675.50 798.95h2.9M576.50 795.87h-2.9M675.50 795.87h2.9M576.50 793.35h-2.9M675.50 793.35h2.9M576.50 791.23h-2.9M675.50 791.23h2.9M576.50 789.38h-2.9M675.50 789.38h2.9M576.50 787.76h-2.9M675.50 787.76h2.9M576.50 776.73h-2.9M675.50 776.73h2.9M576.50 771.13h-2.9M675.50 771.13h2.9M576.50 767.15h-2.9M675.50 767.15h2.9M576.50 764.07h-2.9M675.50 764.07h2.9M576.50 761.55h-2.9M675.50 761.55h2.9M576.50 759.43h-2.9M675.50 759.43h2.9M576.50 757.58h-2.9M675.50 757.58h2.9M576.50 755.96h-2.9M675.50 755.96h2.9M576.50 744.93h-2.9M675.50 744.93h2.9M576.50 739.33h-2.9M675.50 739.33h2.9M576.50 735.35h-2.9M675.50 735.35h2.9M576.50 732.27h-2.9M675.50 732.27h2.9M576.50 729.75h-2.9M675.50 729.75h2.9M576.50 727.63h-2.9M675.50 727.63h2.9M576.50 725.78h-2.9M675.50 725.78h2.9M576.50 724.16h-2.9M675.50 724.16h2.9M576.50 713.13h-2.9M675.50 713.13h2.9M576.50 707.53h-2.9M675.50 707.53h2.9M576.50 703.55h-2.9M675.50 703.55h2.9M576.50 700.47h-2.9M675.50 700.47h2.9M576.50 697.95h-2.9M675.50 697.95h2.9M576.50 695.83h-2.9M675.50 695.83h2.9M576.50 693.98h-2.9M675.50 693.98h2.9M576.50 692.36h-2.9M675.50 692.36h2.9" stroke="#333" stroke-width="0.9" fill="none"/>
<path d="M576.4 798.9L577.2 798.1L577.9 796.7L578.7 795.2L579.4 793.7L580.2 792.2L580.9 791.4L581.7 790.7L582.4 786.2L583.1 774.3L583.9 762.4L584.6 755.0L585.4 752.0L586.1 749.0L586.9 748.3L587.6 748.3L588.4 747.5L589.1 747.5L589.8 746.1L590.6 743.8L591.3 743.1L592.1 744.6L592.8 747.5L593.6 750.5L594.3 749.0L595.0 747.5L595.8 746.1L596.5 749.0L597.3 750.5L598.0 752.0L598.8 756.5L599.5 760.9L600.3 755.0L601.0 750.5L601.7 749.0L602.5 747.5L603.2 746.1L604.0 744.6L604.7 746.1L605.5 743.1L606.2 740.1L607.0 739.4L607.7 738.6L608.4 741.6L609.2 744.6L609.9 747.5L610.7 744.6L611.4 740.1L612.2 740.1L612.9 741.6L613.6 746.1L614.4 749.0L615.1 746.1L615.9 743.1L616.6 744.6L617.4 746.1L618.1 740.1L618.9 735.6L619.6 734.2L620.3 732.7L621.1 735.6L621.8 738.6L622.6 741.6L623.3 743.1L624.1 741.6L624.8 738.6L625.6 737.1L626.3 738.6L627.0 737.1L627.8 735.6L628.5 737.1L629.3 740.1L630.0 741.6L630.8 743.1L631.5 744.6L632.2 746.1L633.0 747.5L633.7 748.3L634.5 747.5L635.2 746.1L636.0 743.8L636.7 743.1L637.5 743.8L638.2 744.6L638.9 746.1L639.7 747.5L640.4 750.5L641.2 756.5L641.9 762.4L642.7 763.9L643.4 765.4L644.2 768.4L644.9 774.3L645.6 780.3L646.4 787.7L647.1 795.2L647.9 802.6L648.6 808.6L649.4 813.0L650.1 817.5" stroke="#1c1c1c" stroke-width="1.55" fill="none" stroke-linejoin="round"/>
<path d="M576.4 787.0L577.2 789.2L577.9 787.7L578.7 786.2L579.4 784.0L580.2 784.8L580.9 786.2L581.7 783.3L582.4 772.8L583.1 762.4L583.9 756.5L584.6 752.8L585.4 752.0L586.1 752.0L586.9 751.7L587.6 752.0L588.4 751.7L589.1 752.0L589.8 751.3L590.6 750.5L591.3 749.0L592.1 748.3L592.8 749.0L593.6 750.5L594.3 753.5L595.0 747.5L595.8 740.1L596.5 741.6L597.3 746.1L598.0 749.0L598.8 744.6L599.5 747.5L600.3 756.5L601.0 750.5L601.7 743.1L602.5 740.9L603.2 747.5L604.0 749.0L604.7 746.1L605.5 750.5L606.2 752.0L607.0 750.5L607.7 749.0L608.4 746.1L609.2 743.1L609.9 740.1L610.7 739.4L611.4 738.6L612.2 734.2L612.9 729.7L613.6 731.9L614.4 737.1L615.1 741.6L615.9 740.1L616.6 741.6L617.4 738.6L618.1 735.6L618.9 741.6L619.6 743.1L620.3 738.6L621.1 729.7L621.8 725.2L622.6 723.7L623.3 729.7L624.1 740.1L624.8 744.6L625.6 741.6L626.3 737.1L627.0 732.7L627.8 731.2L628.5 735.6L629.3 747.5L630.0 752.0L630.8 738.6L631.5 729.7L632.2 727.5L633.0 731.2L633.7 738.6L634.5 740.1L635.2 744.6L636.0 747.5L636.7 753.5L637.5 762.4L638.2 765.4L638.9 760.9L639.7 756.5L640.4 753.5L641.2 765.4L641.9 774.3L642.7 774.3L643.4 774.3L644.2 780.3L644.9 786.2L645.6 780.3L646.4 786.2L647.1 795.2L647.9 804.1L648.6 810.0L649.4 814.5L650.1 818.1" stroke="#e6202a" stroke-width="1.55" fill="none" stroke-linejoin="round"/>
<rect x="576.50" y="690.90" width="99.00" height="127.20" stroke="#262626" stroke-width="1.6" fill="none"/>
<text x="629.40" y="680.90" font-size="12.2" text-anchor="middle">G026 NS</text>
<text x="576.50" y="836.50" font-size="11.8" text-anchor="middle">10<tspan dx="-1.2" dy="-4.2" font-size="8">-1</tspan></text>
<text x="609.50" y="836.50" font-size="11.8" text-anchor="middle">10<tspan dx="0" dy="-4.2" font-size="8">0</tspan></text>
<text x="642.50" y="836.50" font-size="11.8" text-anchor="middle">10<tspan dx="0" dy="-4.2" font-size="8">1</tspan></text>
<text x="675.50" y="836.50" font-size="11.8" text-anchor="middle">10<tspan dx="0" dy="-4.2" font-size="8">2</tspan></text>
<text x="630.60" y="856.40" font-size="16.1" text-anchor="middle">Frequency (Hz)</text>
<text transform="translate(32.20 77.50) rotate(-90)" font-size="15.9" text-anchor="middle">Acc. Spectra (cm/s)</text>
<text transform="translate(32.20 303.00) rotate(-90)" font-size="15.9" text-anchor="middle">Acc. Spectra (cm/s)</text>
<text transform="translate(30.50 521.20) rotate(-90)" font-size="15.9" text-anchor="middle">Acc. Spectra (cm/s)</text>
<text transform="translate(29.70 748.00) rotate(-90)" font-size="15.9" text-anchor="middle">Acc. Spectra (cm/s)</text>
<text x="-0.5" y="11" style="font-family:'Liberation Serif',serif" font-size="16">(a)</text>
<text x="-0.5" y="454.6" style="font-family:'Liberation Serif',serif" font-size="16">(b)</text>
</svg></body></html>
